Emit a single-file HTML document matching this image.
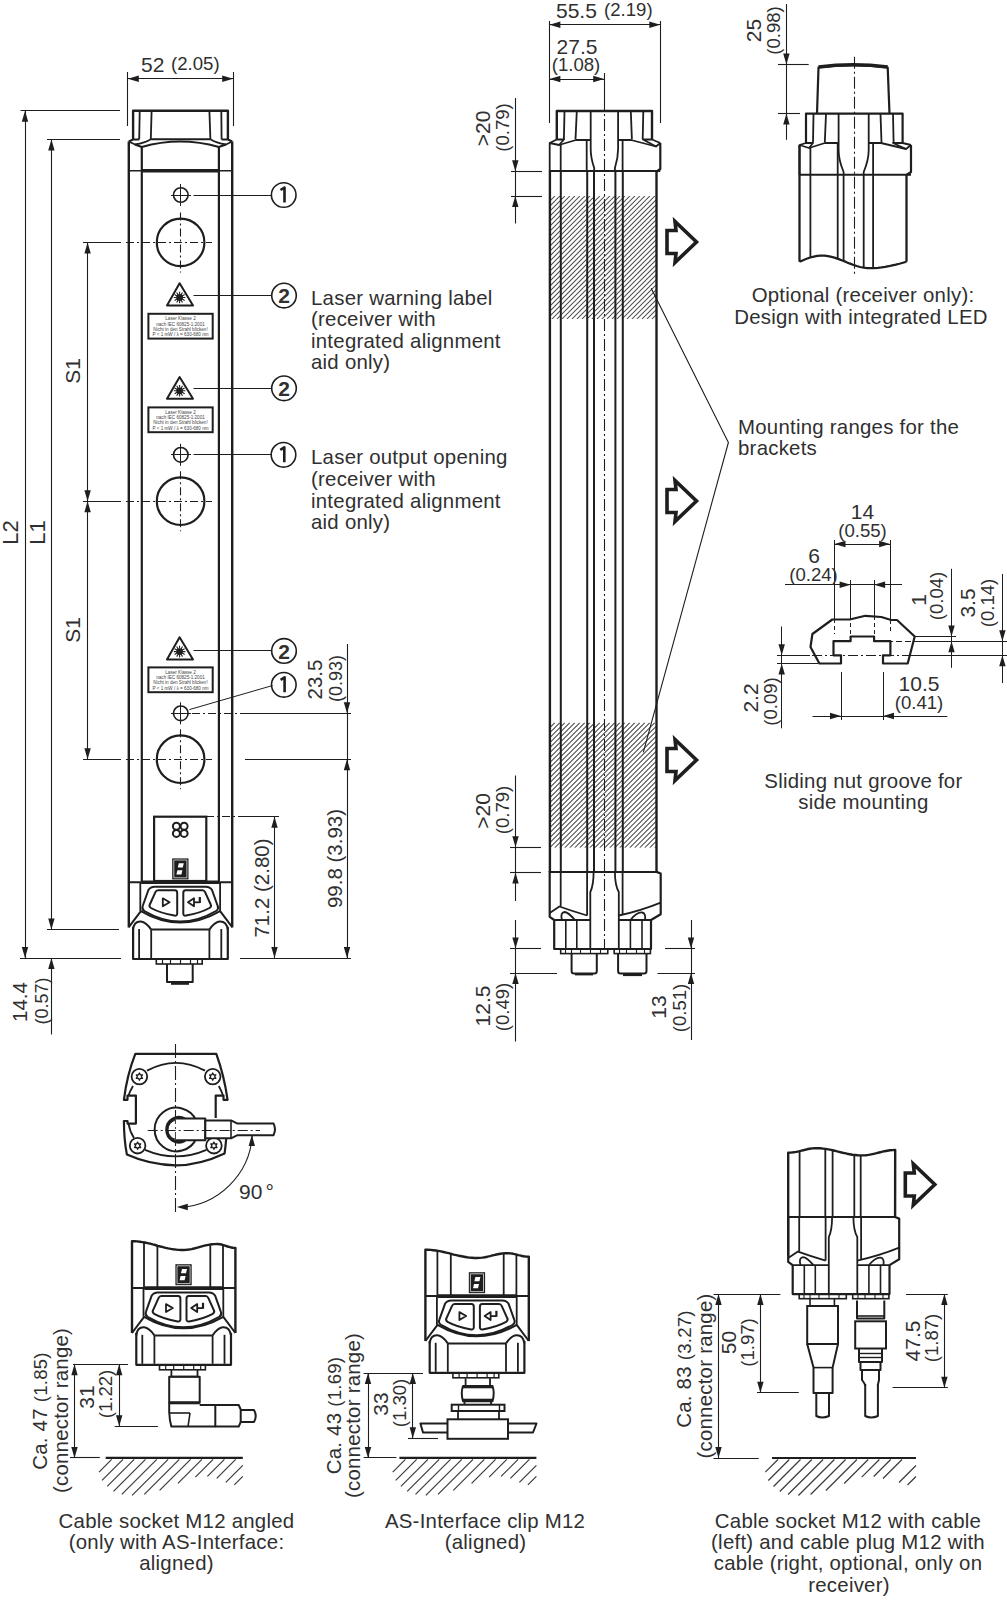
<!DOCTYPE html>
<html><head><meta charset="utf-8"><style>
html,body{margin:0;padding:0;background:#fff;width:1007px;height:1600px;overflow:hidden}
svg{display:block}
text{font-family:"Liberation Sans",sans-serif}
</style></head><body>
<svg width="1007" height="1600" viewBox="0 0 1007 1600">
<rect width="1007" height="1600" fill="#fff"/>
<line x1="127.5" y1="72.0" x2="127.5" y2="126.0" stroke="#1e1e1e" stroke-width="1.1"/>
<line x1="233.5" y1="72.0" x2="233.5" y2="126.0" stroke="#1e1e1e" stroke-width="1.1"/>
<line x1="127.8" y1="78.5" x2="233.2" y2="78.5" stroke="#1e1e1e" stroke-width="1.1"/>
<polygon points="127.8,78.7 138.8,75.5 138.8,81.9" fill="#1e1e1e"/>
<polygon points="233.2,78.7 222.2,75.5 222.2,81.9" fill="#1e1e1e"/>
<text x="141.0" y="71.5" font-size="21" text-anchor="start" fill="#303030">52</text>
<text x="171.0" y="70.0" font-size="18.6" text-anchor="start" fill="#303030">(2.05)</text>
<path d="M133.1,139.5 L133.1,110.7 L227.9,110.7 L227.9,139.5" fill="none" stroke="#1e1e1e" stroke-width="2.4" stroke-linejoin="round"/>
<path d="M139.7,111 L139.2,139.5" fill="none" stroke="#1e1e1e" stroke-width="1.8" stroke-linejoin="round"/>
<path d="M151.6,111 L150.8,139.3" fill="none" stroke="#1e1e1e" stroke-width="1.8" stroke-linejoin="round"/>
<path d="M209.4,111 L210.4,139.3" fill="none" stroke="#1e1e1e" stroke-width="1.8" stroke-linejoin="round"/>
<path d="M221.3,111 L221.6,139.5" fill="none" stroke="#1e1e1e" stroke-width="1.8" stroke-linejoin="round"/>
<path d="M128.8,141.5 L133.1,139.5 L139.2,139.5 M150.8,139.3 L210.4,139.3 M221.6,139.5 L227.9,139.5 L232.2,141.5" fill="none" stroke="#1e1e1e" stroke-width="2.0" stroke-linejoin="round"/>
<path d="M128.8,141.5 L135,144.5 Q145,143 150.8,139.3 M210.4,139.3 Q216,143 226,144.5 L232.2,141.5" fill="none" stroke="#1e1e1e" stroke-width="1.8" stroke-linejoin="round"/>
<path d="M135,144.5 L141.8,147 Q180,136 218.9,147 L226,144.5" fill="none" stroke="#1e1e1e" stroke-width="2.0" stroke-linejoin="round"/>
<line x1="128.8" y1="141.5" x2="128.8" y2="927.5" stroke="#1e1e1e" stroke-width="2.4"/>
<line x1="232.2" y1="141.5" x2="232.2" y2="927.5" stroke="#1e1e1e" stroke-width="2.4"/>
<line x1="141.8" y1="147.0" x2="141.8" y2="881.0" stroke="#1e1e1e" stroke-width="2.2"/>
<line x1="218.9" y1="147.0" x2="218.9" y2="881.0" stroke="#1e1e1e" stroke-width="2.2"/>
<line x1="128.8" y1="170.8" x2="232.2" y2="170.8" stroke="#1e1e1e" stroke-width="1.6"/>
<line x1="141.8" y1="170.8" x2="218.9" y2="170.8" stroke="#1e1e1e" stroke-width="3.4"/>
<line x1="20.5" y1="110.5" x2="120.0" y2="110.5" stroke="#1e1e1e" stroke-width="1.1"/>
<line x1="47.0" y1="139.5" x2="120.0" y2="139.5" stroke="#1e1e1e" stroke-width="1.1"/>
<line x1="47.0" y1="929.5" x2="119.0" y2="929.5" stroke="#1e1e1e" stroke-width="1.1"/>
<line x1="20.0" y1="958.5" x2="121.0" y2="958.5" stroke="#1e1e1e" stroke-width="1.1"/>
<line x1="25.5" y1="110.8" x2="25.5" y2="958.0" stroke="#1e1e1e" stroke-width="1.1"/>
<polygon points="25.0,110.8 21.8,121.8 28.2,121.8" fill="#1e1e1e"/>
<polygon points="25.0,958.0 21.8,947.0 28.2,947.0" fill="#1e1e1e"/>
<line x1="51.5" y1="139.5" x2="51.5" y2="929.5" stroke="#1e1e1e" stroke-width="1.1"/>
<polygon points="51.4,139.5 48.2,150.5 54.6,150.5" fill="#1e1e1e"/>
<polygon points="51.4,929.5 48.2,918.5 54.6,918.5" fill="#1e1e1e"/>
<text x="18.0" y="532.5" font-size="22" text-anchor="middle" fill="#303030" transform="rotate(-90 18.0 532.5)">L2</text>
<text x="44.5" y="532.5" font-size="22" text-anchor="middle" fill="#303030" transform="rotate(-90 44.5 532.5)">L1</text>
<line x1="51.5" y1="958.0" x2="51.5" y2="1034.5" stroke="#1e1e1e" stroke-width="1.1"/>
<polygon points="51.4,958.0 48.2,969.0 54.6,969.0" fill="#1e1e1e"/>
<text x="27.0" y="1002.0" font-size="20.5" text-anchor="middle" fill="#303030" transform="rotate(-90 27.0 1002.0)">14.4</text>
<text x="47.5" y="1001.0" font-size="18" text-anchor="middle" fill="#303030" transform="rotate(-90 47.5 1001.0)">(0.57)</text>
<line x1="83.0" y1="242.5" x2="121.0" y2="242.5" stroke="#1e1e1e" stroke-width="1.1"/>
<line x1="83.0" y1="501.5" x2="121.0" y2="501.5" stroke="#1e1e1e" stroke-width="1.1"/>
<line x1="83.0" y1="759.5" x2="121.0" y2="759.5" stroke="#1e1e1e" stroke-width="1.1"/>
<line x1="87.5" y1="242.4" x2="87.5" y2="759.2" stroke="#1e1e1e" stroke-width="1.1"/>
<polygon points="87.6,242.4 84.4,253.4 90.8,253.4" fill="#1e1e1e"/>
<polygon points="87.6,501.2 84.4,490.2 90.8,490.2" fill="#1e1e1e"/>
<polygon points="87.6,501.2 84.4,512.2 90.8,512.2" fill="#1e1e1e"/>
<polygon points="87.6,759.2 84.4,748.2 90.8,748.2" fill="#1e1e1e"/>
<text x="79.5" y="371.0" font-size="21" text-anchor="middle" fill="#303030" transform="rotate(-90 79.5 371.0)">S1</text>
<text x="79.5" y="630.0" font-size="21" text-anchor="middle" fill="#303030" transform="rotate(-90 79.5 630.0)">S1</text>
<circle cx="180.6" cy="242.4" r="23.8" fill="none" stroke="#1e1e1e" stroke-width="2.2"/>
<line x1="180.5" y1="212.4" x2="180.5" y2="272.4" stroke="#1e1e1e" stroke-width="1.1" stroke-dasharray="8 3 2 3"/>
<line x1="126.0" y1="242.5" x2="212.0" y2="242.5" stroke="#1e1e1e" stroke-width="1.1" stroke-dasharray="8 3 2 3"/>
<circle cx="180.8" cy="195.0" r="7.3" fill="none" stroke="#1e1e1e" stroke-width="1.6"/>
<line x1="171.0" y1="195.5" x2="191.0" y2="195.5" stroke="#1e1e1e" stroke-width="1.0"/>
<line x1="180.5" y1="184.0" x2="180.5" y2="206.0" stroke="#1e1e1e" stroke-width="1.0"/>
<circle cx="180.6" cy="501.2" r="23.8" fill="none" stroke="#1e1e1e" stroke-width="2.2"/>
<line x1="180.5" y1="471.2" x2="180.5" y2="531.2" stroke="#1e1e1e" stroke-width="1.1" stroke-dasharray="8 3 2 3"/>
<line x1="126.0" y1="501.5" x2="212.0" y2="501.5" stroke="#1e1e1e" stroke-width="1.1" stroke-dasharray="8 3 2 3"/>
<circle cx="180.8" cy="454.8" r="7.3" fill="none" stroke="#1e1e1e" stroke-width="1.6"/>
<line x1="171.0" y1="454.5" x2="191.0" y2="454.5" stroke="#1e1e1e" stroke-width="1.0"/>
<line x1="180.5" y1="443.8" x2="180.5" y2="465.8" stroke="#1e1e1e" stroke-width="1.0"/>
<circle cx="180.6" cy="759.2" r="23.8" fill="none" stroke="#1e1e1e" stroke-width="2.2"/>
<line x1="180.5" y1="729.2" x2="180.5" y2="789.2" stroke="#1e1e1e" stroke-width="1.1" stroke-dasharray="8 3 2 3"/>
<line x1="126.0" y1="759.5" x2="212.0" y2="759.5" stroke="#1e1e1e" stroke-width="1.1" stroke-dasharray="8 3 2 3"/>
<circle cx="180.8" cy="713.3" r="7.3" fill="none" stroke="#1e1e1e" stroke-width="1.6"/>
<line x1="171.0" y1="713.5" x2="191.0" y2="713.5" stroke="#1e1e1e" stroke-width="1.0"/>
<line x1="180.5" y1="702.3" x2="180.5" y2="724.3" stroke="#1e1e1e" stroke-width="1.0"/>
<path d="M179.6,283.2 L167.0,305.5 L193.0,305.5 Z" fill="none" stroke="#1e1e1e" stroke-width="2.0" stroke-linejoin="round"/>
<circle cx="179.6" cy="297.5" r="3.4" fill="#1e1e1e"/>
<path d="M182.60,297.50 L185.40,297.50 M182.20,299.00 L184.62,300.40 M181.10,300.10 L182.50,302.52 M179.60,300.50 L179.60,303.30 M178.10,300.10 L176.70,302.52 M177.00,299.00 L174.58,300.40 M176.60,297.50 L173.80,297.50 M177.00,296.00 L174.58,294.60 M178.10,294.90 L176.70,292.48 M179.60,294.50 L179.60,291.70 M181.10,294.90 L182.50,292.48 M182.20,296.00 L184.62,294.60" stroke="#1e1e1e" stroke-width="1.1"/>
<rect x="148.4" y="313.8" width="64.3" height="24.8" fill="none" stroke="#1e1e1e" stroke-width="2.0"/>
<text x="180.5" y="320.3" font-size="4.6" text-anchor="middle" fill="#444">Laser Klasse 2</text>
<text x="180.5" y="325.5" font-size="4.6" text-anchor="middle" fill="#444">nach IEC 60825-1:2001</text>
<text x="180.5" y="330.7" font-size="4.6" text-anchor="middle" fill="#444">Nicht in den Strahl blicken!</text>
<text x="180.5" y="335.9" font-size="4.6" text-anchor="middle" fill="#444">P &lt; 1 mW / λ = 630-680 nm</text>
<path d="M179.6,377.0 L167.0,398.8 L193.0,398.8 Z" fill="none" stroke="#1e1e1e" stroke-width="2.0" stroke-linejoin="round"/>
<circle cx="179.6" cy="390.8" r="3.4" fill="#1e1e1e"/>
<path d="M182.60,390.80 L185.40,390.80 M182.20,392.30 L184.62,393.70 M181.10,393.40 L182.50,395.82 M179.60,393.80 L179.60,396.60 M178.10,393.40 L176.70,395.82 M177.00,392.30 L174.58,393.70 M176.60,390.80 L173.80,390.80 M177.00,389.30 L174.58,387.90 M178.10,388.20 L176.70,385.78 M179.60,387.80 L179.60,385.00 M181.10,388.20 L182.50,385.78 M182.20,389.30 L184.62,387.90" stroke="#1e1e1e" stroke-width="1.1"/>
<rect x="148.4" y="407.4" width="64.3" height="24.8" fill="none" stroke="#1e1e1e" stroke-width="2.0"/>
<text x="180.5" y="413.9" font-size="4.6" text-anchor="middle" fill="#444">Laser Klasse 2</text>
<text x="180.5" y="419.1" font-size="4.6" text-anchor="middle" fill="#444">nach IEC 60825-1:2001</text>
<text x="180.5" y="424.3" font-size="4.6" text-anchor="middle" fill="#444">Nicht in den Strahl blicken!</text>
<text x="180.5" y="429.5" font-size="4.6" text-anchor="middle" fill="#444">P &lt; 1 mW / λ = 630-680 nm</text>
<path d="M179.6,637.2 L167.0,659.6 L193.0,659.6 Z" fill="none" stroke="#1e1e1e" stroke-width="2.0" stroke-linejoin="round"/>
<circle cx="179.6" cy="651.6" r="3.4" fill="#1e1e1e"/>
<path d="M182.60,651.60 L185.40,651.60 M182.20,653.10 L184.62,654.50 M181.10,654.20 L182.50,656.62 M179.60,654.60 L179.60,657.40 M178.10,654.20 L176.70,656.62 M177.00,653.10 L174.58,654.50 M176.60,651.60 L173.80,651.60 M177.00,650.10 L174.58,648.70 M178.10,649.00 L176.70,646.58 M179.60,648.60 L179.60,645.80 M181.10,649.00 L182.50,646.58 M182.20,650.10 L184.62,648.70" stroke="#1e1e1e" stroke-width="1.1"/>
<rect x="148.4" y="667.4" width="64.3" height="24.8" fill="none" stroke="#1e1e1e" stroke-width="2.0"/>
<text x="180.5" y="673.9" font-size="4.6" text-anchor="middle" fill="#444">Laser Klasse 2</text>
<text x="180.5" y="679.1" font-size="4.6" text-anchor="middle" fill="#444">nach IEC 60825-1:2001</text>
<text x="180.5" y="684.3" font-size="4.6" text-anchor="middle" fill="#444">Nicht in den Strahl blicken!</text>
<text x="180.5" y="689.5" font-size="4.6" text-anchor="middle" fill="#444">P &lt; 1 mW / λ = 630-680 nm</text>
<line x1="193.5" y1="195.5" x2="272.0" y2="195.5" stroke="#1e1e1e" stroke-width="1.0"/>
<circle cx="283.7" cy="195.0" r="12.3" fill="none" stroke="#1e1e1e" stroke-width="1.6"/>
<path d="M280.5,190.0 L284.5,187.5 L284.5,202.5" fill="none" stroke="#1e1e1e" stroke-width="2.6" stroke-linejoin="round"/>
<line x1="193.5" y1="295.5" x2="272.0" y2="295.5" stroke="#1e1e1e" stroke-width="1.0"/>
<circle cx="284.0" cy="295.6" r="12.3" fill="none" stroke="#1e1e1e" stroke-width="1.6"/>
<text x="284.0" y="303.2" font-size="21" text-anchor="middle" fill="#303030" font-weight="bold">2</text>
<line x1="193.5" y1="388.5" x2="272.0" y2="388.5" stroke="#1e1e1e" stroke-width="1.0"/>
<circle cx="284.0" cy="388.3" r="12.3" fill="none" stroke="#1e1e1e" stroke-width="1.6"/>
<text x="284.0" y="395.9" font-size="21" text-anchor="middle" fill="#303030" font-weight="bold">2</text>
<line x1="193.5" y1="454.5" x2="271.0" y2="454.5" stroke="#1e1e1e" stroke-width="1.0"/>
<circle cx="283.5" cy="454.8" r="12.3" fill="none" stroke="#1e1e1e" stroke-width="1.6"/>
<path d="M280.3,449.8 L284.3,447.3 L284.3,462.3" fill="none" stroke="#1e1e1e" stroke-width="2.6" stroke-linejoin="round"/>
<line x1="193.5" y1="650.5" x2="272.0" y2="650.5" stroke="#1e1e1e" stroke-width="1.0"/>
<circle cx="284.0" cy="650.9" r="12.3" fill="none" stroke="#1e1e1e" stroke-width="1.6"/>
<text x="284.0" y="658.5" font-size="21" text-anchor="middle" fill="#303030" font-weight="bold">2</text>
<line x1="189.4" y1="709.6" x2="272.6" y2="685.5" stroke="#1e1e1e" stroke-width="1.0"/>
<circle cx="283.8" cy="684.8" r="12.3" fill="none" stroke="#1e1e1e" stroke-width="1.6"/>
<path d="M280.6,679.8 L284.6,677.3 L284.6,692.3" fill="none" stroke="#1e1e1e" stroke-width="2.6" stroke-linejoin="round"/>
<line x1="245.0" y1="713.5" x2="351.0" y2="713.5" stroke="#1e1e1e" stroke-width="1.1"/>
<line x1="192.0" y1="713.5" x2="245.0" y2="713.5" stroke="#1e1e1e" stroke-width="1.1" stroke-dasharray="8 3 2 3"/>
<line x1="245.0" y1="759.5" x2="351.0" y2="759.5" stroke="#1e1e1e" stroke-width="1.1"/>
<line x1="347.5" y1="644.0" x2="347.5" y2="958.0" stroke="#1e1e1e" stroke-width="1.1"/>
<polygon points="347.0,713.3 343.8,702.3 350.2,702.3" fill="#1e1e1e"/>
<polygon points="347.0,759.2 343.8,770.2 350.2,770.2" fill="#1e1e1e"/>
<polygon points="347.0,958.0 343.8,947.0 350.2,947.0" fill="#1e1e1e"/>
<line x1="240.0" y1="958.5" x2="351.0" y2="958.5" stroke="#1e1e1e" stroke-width="1.1"/>
<line x1="206.0" y1="816.5" x2="279.0" y2="816.5" stroke="#1e1e1e" stroke-width="1.1" stroke-dasharray="8 3 2 3"/>
<line x1="245.0" y1="816.5" x2="279.0" y2="816.5" stroke="#1e1e1e" stroke-width="1.1"/>
<line x1="274.5" y1="816.8" x2="274.5" y2="958.0" stroke="#1e1e1e" stroke-width="1.1"/>
<polygon points="274.5,816.8 271.3,827.8 277.7,827.8" fill="#1e1e1e"/>
<polygon points="274.5,958.0 271.3,947.0 277.7,947.0" fill="#1e1e1e"/>
<text x="322.0" y="679.5" font-size="20.5" text-anchor="middle" fill="#303030" transform="rotate(-90 322.0 679.5)">23.5</text>
<text x="341.5" y="678.5" font-size="18" text-anchor="middle" fill="#303030" transform="rotate(-90 341.5 678.5)">(0.93)</text>
<text x="341.5" y="858.5" font-size="20.5" text-anchor="middle" fill="#303030" transform="rotate(-90 341.5 858.5)">99.8 (3.93)</text>
<text x="269.0" y="888.0" font-size="20.5" text-anchor="middle" fill="#303030" transform="rotate(-90 269.0 888.0)">71.2 (2.80)</text>
<rect x="154.1" y="816.7" width="52.2" height="64.3" fill="none" stroke="#1e1e1e" stroke-width="2.2"/>
<circle cx="176.4" cy="826.2" r="3.5" fill="none" stroke="#1e1e1e" stroke-width="2.0"/>
<circle cx="184.1" cy="826.2" r="3.5" fill="none" stroke="#1e1e1e" stroke-width="2.0"/>
<circle cx="176.4" cy="833.4" r="3.5" fill="none" stroke="#1e1e1e" stroke-width="2.0"/>
<circle cx="184.1" cy="833.4" r="3.5" fill="none" stroke="#1e1e1e" stroke-width="2.0"/>
<rect x="172.2" y="858.4" width="16.3" height="21" fill="#1e1e1e"/>
<path d="M173.8,860.0 h13.1 v17.8 h-13.1 Z" fill="none" stroke="#fff" stroke-width="0.7"/>
<path d="M178.8,863.2 L183.8,863.2 L182.8,867.4 L177.8,867.4 Z M177.4,870.2 L182.4,870.2 L181.4,874.4 L176.4,874.4 Z" fill="#fff"/>
<line x1="128.8" y1="882.3" x2="232.2" y2="882.3" stroke="#1e1e1e" stroke-width="2.0"/>
<line x1="141.2" y1="882.3" x2="219.8" y2="882.3" stroke="#1e1e1e" stroke-width="3.6"/>
<line x1="140.3" y1="883.0" x2="140.3" y2="911.0" stroke="#1e1e1e" stroke-width="1.8"/>
<line x1="220.1" y1="883.0" x2="220.1" y2="911.0" stroke="#1e1e1e" stroke-width="1.8"/>
<path d="M154.6,886.7 L205.8,886.7 Q210,886.7 212,890 L217.7,906 Q219,909 216,911 Q180,932 144.4,911 Q141.5,909 142.7,906 L148.4,890 Q150.4,886.7 154.6,886.7 Z" fill="none" stroke="#1e1e1e" stroke-width="2.0" stroke-linejoin="round"/>
<path d="M158.1,890.3 L175,890.3 Q177.2,890.3 177.2,893 L177.2,913.5 Q177.2,916 174.5,915.6 Q160,913 151,908 Q148.7,906.5 149.8,904.5 L155.3,892.3 Q156.3,890.3 158.1,890.3 Z" fill="none" stroke="#1e1e1e" stroke-width="2.0" stroke-linejoin="round"/>
<path d="M202.5,890.3 L185.5,890.3 Q183.3,890.3 183.3,893 L183.3,913.5 Q183.3,916 186,915.6 Q200.5,913 209.5,908 Q211.8,906.5 210.7,904.5 L205.2,892.3 Q204.2,890.3 202.5,890.3 Z" fill="none" stroke="#1e1e1e" stroke-width="2.0" stroke-linejoin="round"/>
<path d="M162.8,898.3 L169.6,902.2 L162.8,906.2 Z" fill="none" stroke="#1e1e1e" stroke-width="1.8" stroke-linejoin="round"/>
<path d="M188.0,902.3 L194.0,898.3 L194.0,906.3 Z" fill="none" stroke="#1e1e1e" stroke-width="1.8" stroke-linejoin="round"/>
<line x1="194.0" y1="902.3" x2="199.5" y2="902.3" stroke="#1e1e1e" stroke-width="1.8"/>
<line x1="199.8" y1="897.0" x2="199.8" y2="903.0" stroke="#1e1e1e" stroke-width="2.2"/>
<path d="M128.8,927.2 L140.9,911.1 Q180,934 220.1,911.1 L232.2,927.2" fill="none" stroke="#1e1e1e" stroke-width="2.0" stroke-linejoin="round"/>
<path d="M133,929.6 Q134,921 141,921.5 Q146,922 151.2,929.6" fill="none" stroke="#1e1e1e" stroke-width="2.0" stroke-linejoin="round"/>
<path d="M227.8,929.6 Q226.5,921 219.5,921.5 Q214.5,922 209.4,929.6" fill="none" stroke="#1e1e1e" stroke-width="2.0" stroke-linejoin="round"/>
<path d="M133.1,927 L133.1,959 L227.8,959 L227.8,927" fill="none" stroke="#1e1e1e" stroke-width="2.2" stroke-linejoin="round"/>
<line x1="139.1" y1="929.0" x2="139.1" y2="958.0" stroke="#1e1e1e" stroke-width="1.8"/>
<line x1="151.2" y1="929.6" x2="151.2" y2="958.0" stroke="#1e1e1e" stroke-width="1.8"/>
<line x1="209.4" y1="929.6" x2="209.4" y2="958.0" stroke="#1e1e1e" stroke-width="1.8"/>
<line x1="221.3" y1="929.0" x2="221.3" y2="958.0" stroke="#1e1e1e" stroke-width="1.8"/>
<line x1="151.2" y1="929.6" x2="209.4" y2="929.6" stroke="#1e1e1e" stroke-width="2.0"/>
<rect x="156.3" y="959.0" width="45.9" height="5.0" fill="none" stroke="#1e1e1e" stroke-width="1.6"/>
<line x1="162.5" y1="959.0" x2="162.5" y2="964.0" stroke="#1e1e1e" stroke-width="1.2"/>
<line x1="170.5" y1="959.0" x2="170.5" y2="964.0" stroke="#1e1e1e" stroke-width="1.2"/>
<line x1="180.5" y1="959.0" x2="180.5" y2="964.0" stroke="#1e1e1e" stroke-width="1.2"/>
<line x1="190.5" y1="959.0" x2="190.5" y2="964.0" stroke="#1e1e1e" stroke-width="1.2"/>
<line x1="197.5" y1="959.0" x2="197.5" y2="964.0" stroke="#1e1e1e" stroke-width="1.2"/>
<path d="M167,964 L167,982 L192.7,982 L192.7,964" fill="none" stroke="#1e1e1e" stroke-width="2.0" stroke-linejoin="round"/>
<line x1="171.0" y1="983.5" x2="189.0" y2="983.5" stroke="#1e1e1e" stroke-width="2.6"/>
<text x="311.0" y="304.9" font-size="20.4" text-anchor="start" fill="#303030" letter-spacing="0.25">Laser warning label</text>
<text x="311.0" y="326.4" font-size="20.4" text-anchor="start" fill="#303030" letter-spacing="0.25">(receiver with</text>
<text x="311.0" y="347.9" font-size="20.4" text-anchor="start" fill="#303030" letter-spacing="0.25">integrated alignment</text>
<text x="311.0" y="369.4" font-size="20.4" text-anchor="start" fill="#303030" letter-spacing="0.25">aid only)</text>
<text x="311.0" y="464.2" font-size="20.4" text-anchor="start" fill="#303030" letter-spacing="0.25">Laser output opening</text>
<text x="311.0" y="485.9" font-size="20.4" text-anchor="start" fill="#303030" letter-spacing="0.25">(receiver with</text>
<text x="311.0" y="507.6" font-size="20.4" text-anchor="start" fill="#303030" letter-spacing="0.25">integrated alignment</text>
<text x="311.0" y="529.3" font-size="20.4" text-anchor="start" fill="#303030" letter-spacing="0.25">aid only)</text>
<line x1="549.5" y1="21.0" x2="549.5" y2="123.0" stroke="#1e1e1e" stroke-width="1.1"/>
<line x1="660.5" y1="21.0" x2="660.5" y2="123.0" stroke="#1e1e1e" stroke-width="1.1"/>
<line x1="549.4" y1="24.5" x2="660.3" y2="24.5" stroke="#1e1e1e" stroke-width="1.1"/>
<polygon points="549.4,24.8 560.4,21.6 560.4,28.0" fill="#1e1e1e"/>
<polygon points="660.3,24.8 649.3,21.6 649.3,28.0" fill="#1e1e1e"/>
<text x="556.0" y="17.5" font-size="21" text-anchor="start" fill="#303030">55.5</text>
<text x="604.0" y="16.0" font-size="18.6" text-anchor="start" fill="#303030">(2.19)</text>
<line x1="549.4" y1="79.5" x2="604.2" y2="79.5" stroke="#1e1e1e" stroke-width="1.1"/>
<polygon points="549.4,79.0 560.4,75.8 560.4,82.2" fill="#1e1e1e"/>
<polygon points="604.2,79.0 593.2,75.8 593.2,82.2" fill="#1e1e1e"/>
<line x1="604.5" y1="73.0" x2="604.5" y2="99.0" stroke="#1e1e1e" stroke-width="1.1"/>
<text x="577.0" y="53.5" font-size="21" text-anchor="middle" fill="#303030">27.5</text>
<text x="576.0" y="70.5" font-size="18.6" text-anchor="middle" fill="#303030">(1.08)</text>
<clipPath id="h181"><rect x="549.9" y="196" width="106.60000000000002" height="123"/></clipPath>
<path clip-path="url(#h181)" d="M426.9,319.0 L549.9,196.0 M431.9,319.0 L554.9,196.0 M436.9,319.0 L559.9,196.0 M441.9,319.0 L564.9,196.0 M446.9,319.0 L569.9,196.0 M451.9,319.0 L574.9,196.0 M456.9,319.0 L579.9,196.0 M461.9,319.0 L584.9,196.0 M466.9,319.0 L589.9,196.0 M471.9,319.0 L594.9,196.0 M476.9,319.0 L599.9,196.0 M481.9,319.0 L604.9,196.0 M486.9,319.0 L609.9,196.0 M491.9,319.0 L614.9,196.0 M496.9,319.0 L619.9,196.0 M501.9,319.0 L624.9,196.0 M506.9,319.0 L629.9,196.0 M511.9,319.0 L634.9,196.0 M516.9,319.0 L639.9,196.0 M521.9,319.0 L644.9,196.0 M526.9,319.0 L649.9,196.0 M531.9,319.0 L654.9,196.0 M536.9,319.0 L659.9,196.0 M541.9,319.0 L664.9,196.0 M546.9,319.0 L669.9,196.0 M551.9,319.0 L674.9,196.0 M556.9,319.0 L679.9,196.0 M561.9,319.0 L684.9,196.0 M566.9,319.0 L689.9,196.0 M571.9,319.0 L694.9,196.0 M576.9,319.0 L699.9,196.0 M581.9,319.0 L704.9,196.0 M586.9,319.0 L709.9,196.0 M591.9,319.0 L714.9,196.0 M596.9,319.0 L719.9,196.0 M601.9,319.0 L724.9,196.0 M606.9,319.0 L729.9,196.0 M611.9,319.0 L734.9,196.0 M616.9,319.0 L739.9,196.0 M621.9,319.0 L744.9,196.0 M626.9,319.0 L749.9,196.0 M631.9,319.0 L754.9,196.0 M636.9,319.0 L759.9,196.0 M641.9,319.0 L764.9,196.0 M646.9,319.0 L769.9,196.0 M651.9,319.0 L774.9,196.0" stroke="#4a4a4a" stroke-width="1.05" fill="none"/>
<clipPath id="h183"><rect x="549.9" y="722.6" width="106.60000000000002" height="125.19999999999993"/></clipPath>
<path clip-path="url(#h183)" d="M424.7,847.8 L549.9,722.6 M429.7,847.8 L554.9,722.6 M434.7,847.8 L559.9,722.6 M439.7,847.8 L564.9,722.6 M444.7,847.8 L569.9,722.6 M449.7,847.8 L574.9,722.6 M454.7,847.8 L579.9,722.6 M459.7,847.8 L584.9,722.6 M464.7,847.8 L589.9,722.6 M469.7,847.8 L594.9,722.6 M474.7,847.8 L599.9,722.6 M479.7,847.8 L604.9,722.6 M484.7,847.8 L609.9,722.6 M489.7,847.8 L614.9,722.6 M494.7,847.8 L619.9,722.6 M499.7,847.8 L624.9,722.6 M504.7,847.8 L629.9,722.6 M509.7,847.8 L634.9,722.6 M514.7,847.8 L639.9,722.6 M519.7,847.8 L644.9,722.6 M524.7,847.8 L649.9,722.6 M529.7,847.8 L654.9,722.6 M534.7,847.8 L659.9,722.6 M539.7,847.8 L664.9,722.6 M544.7,847.8 L669.9,722.6 M549.7,847.8 L674.9,722.6 M554.7,847.8 L679.9,722.6 M559.7,847.8 L684.9,722.6 M564.7,847.8 L689.9,722.6 M569.7,847.8 L694.9,722.6 M574.7,847.8 L699.9,722.6 M579.7,847.8 L704.9,722.6 M584.7,847.8 L709.9,722.6 M589.7,847.8 L714.9,722.6 M594.7,847.8 L719.9,722.6 M599.7,847.8 L724.9,722.6 M604.7,847.8 L729.9,722.6 M609.7,847.8 L734.9,722.6 M614.7,847.8 L739.9,722.6 M619.7,847.8 L744.9,722.6 M624.7,847.8 L749.9,722.6 M629.7,847.8 L754.9,722.6 M634.7,847.8 L759.9,722.6 M639.7,847.8 L764.9,722.6 M644.7,847.8 L769.9,722.6 M649.7,847.8 L774.9,722.6 M654.7,847.8 L779.9,722.6" stroke="#4a4a4a" stroke-width="1.05" fill="none"/>
<path d="M556.8,140 L556.8,111 L652,111 L652,140" fill="none" stroke="#1e1e1e" stroke-width="2.4" stroke-linejoin="round"/>
<path d="M564.5,111 L563.9,139.4" fill="none" stroke="#1e1e1e" stroke-width="1.8" stroke-linejoin="round"/>
<path d="M576.8,111 L575.5,139.4" fill="none" stroke="#1e1e1e" stroke-width="1.8" stroke-linejoin="round"/>
<path d="M643.3,111 L642.7,139.4" fill="none" stroke="#1e1e1e" stroke-width="1.8" stroke-linejoin="round"/>
<path d="M630.8,111 L631.9,139.4" fill="none" stroke="#1e1e1e" stroke-width="1.8" stroke-linejoin="round"/>
<path d="M549.7,171 L549.7,143 L556.8,139.5 L564,139.5 L559,145 L549.7,143" fill="none" stroke="#1e1e1e" stroke-width="1.8" stroke-linejoin="round"/>
<path d="M559,145 L576,140 L590.7,140" fill="none" stroke="#1e1e1e" stroke-width="1.8" stroke-linejoin="round"/>
<path d="M660.3,143 L652,139.5 L643,139.5 L656,146.5 L660.3,143" fill="none" stroke="#1e1e1e" stroke-width="1.8" stroke-linejoin="round"/>
<path d="M656,146.5 L631,140 L618.1,140" fill="none" stroke="#1e1e1e" stroke-width="1.8" stroke-linejoin="round"/>
<path d="M660.3,143 L660.3,169 L656.5,171.5" fill="none" stroke="#1e1e1e" stroke-width="2.2" stroke-linejoin="round"/>
<line x1="560.7" y1="145.0" x2="560.7" y2="171.0" stroke="#1e1e1e" stroke-width="1.8"/>
<line x1="586.7" y1="141.0" x2="586.7" y2="171.0" stroke="#1e1e1e" stroke-width="1.8"/>
<line x1="622.6" y1="141.0" x2="622.6" y2="171.0" stroke="#1e1e1e" stroke-width="1.8"/>
<path d="M590.7,111 L590.7,149 Q590.7,158 594.2,168 L594.2,171" fill="none" stroke="#1e1e1e" stroke-width="1.8" stroke-linejoin="round"/>
<path d="M618.1,111 L618.1,149 Q618.1,158 614.9,168 L614.9,171" fill="none" stroke="#1e1e1e" stroke-width="1.8" stroke-linejoin="round"/>
<line x1="549.7" y1="171.0" x2="660.3" y2="171.0" stroke="#1e1e1e" stroke-width="2.0"/>
<line x1="549.9" y1="171.0" x2="549.9" y2="872.0" stroke="#1e1e1e" stroke-width="2.4"/>
<line x1="560.8" y1="171.0" x2="560.8" y2="872.0" stroke="#1e1e1e" stroke-width="2.0"/>
<line x1="587.2" y1="171.0" x2="587.2" y2="872.0" stroke="#1e1e1e" stroke-width="2.0"/>
<line x1="594.0" y1="171.0" x2="594.0" y2="872.0" stroke="#1e1e1e" stroke-width="2.0"/>
<line x1="615.4" y1="171.0" x2="615.4" y2="872.0" stroke="#1e1e1e" stroke-width="2.0"/>
<line x1="622.8" y1="171.0" x2="622.8" y2="872.0" stroke="#1e1e1e" stroke-width="2.0"/>
<line x1="656.5" y1="171.0" x2="656.5" y2="872.0" stroke="#1e1e1e" stroke-width="2.4"/>
<line x1="604.5" y1="99.0" x2="604.5" y2="950.0" stroke="#1e1e1e" stroke-width="1.1" stroke-dasharray="12 3 2 3"/>
<g transform="translate(0,0)">
<line x1="549.7" y1="871.9" x2="657.5" y2="871.9" stroke="#1e1e1e" stroke-width="2.0"/>
<path d="M656.5,871.9 L660.7,873.5 L660.7,914.2 L651,920" fill="none" stroke="#1e1e1e" stroke-width="2.2" stroke-linejoin="round"/>
<path d="M549.7,871 L549.7,916.8 L554.2,920" fill="none" stroke="#1e1e1e" stroke-width="2.2" stroke-linejoin="round"/>
<line x1="560.7" y1="871.9" x2="560.7" y2="906.5" stroke="#1e1e1e" stroke-width="1.8"/>
<path d="M549.7,913 L559.4,906.5 Q572,911 587.1,915.5" fill="none" stroke="#1e1e1e" stroke-width="1.8" stroke-linejoin="round"/>
<path d="M660.7,902.6 Q640,911 618.8,915.5" fill="none" stroke="#1e1e1e" stroke-width="1.8" stroke-linejoin="round"/>
<line x1="587.1" y1="871.9" x2="587.1" y2="915.5" stroke="#1e1e1e" stroke-width="1.8"/>
<line x1="622.6" y1="871.9" x2="622.6" y2="914.0" stroke="#1e1e1e" stroke-width="1.8"/>
<path d="M593.6,871.9 Q593.6,885 590.3,892 L590.3,949" fill="none" stroke="#1e1e1e" stroke-width="1.8" stroke-linejoin="round"/>
<path d="M614.9,871.9 Q614.9,885 618.8,892 L618.8,949" fill="none" stroke="#1e1e1e" stroke-width="1.8" stroke-linejoin="round"/>
<path d="M554.2,920 L590.3,920" fill="none" stroke="#1e1e1e" stroke-width="1.8" stroke-linejoin="round"/>
<path d="M618.8,920 L651,920" fill="none" stroke="#1e1e1e" stroke-width="1.8" stroke-linejoin="round"/>
<path d="M562,920 Q560,912.5 564.5,912 Q568,912 575,920" fill="none" stroke="#1e1e1e" stroke-width="1.8" stroke-linejoin="round"/>
<path d="M630.4,920 Q637,912 642,912.5 Q646,913 645,920" fill="none" stroke="#1e1e1e" stroke-width="1.8" stroke-linejoin="round"/>
<path d="M554.2,920 L554.2,949 L651,949 L651,920" fill="none" stroke="#1e1e1e" stroke-width="2.2" stroke-linejoin="round"/>
<line x1="565.8" y1="920.0" x2="565.8" y2="949.0" stroke="#1e1e1e" stroke-width="1.6"/>
<line x1="576.8" y1="920.0" x2="576.8" y2="949.0" stroke="#1e1e1e" stroke-width="1.6"/>
<line x1="630.4" y1="920.0" x2="630.4" y2="949.0" stroke="#1e1e1e" stroke-width="1.6"/>
<line x1="642.0" y1="920.0" x2="642.0" y2="949.0" stroke="#1e1e1e" stroke-width="1.6"/>
<rect x="560.7" y="949.0" width="47.1" height="4.6" fill="none" stroke="#1e1e1e" stroke-width="1.6"/>
<rect x="614.2" y="949.0" width="36.2" height="4.6" fill="none" stroke="#1e1e1e" stroke-width="1.6"/>
<line x1="565.5" y1="949.0" x2="565.5" y2="953.6" stroke="#1e1e1e" stroke-width="1.1"/>
<line x1="571.5" y1="949.0" x2="571.5" y2="953.6" stroke="#1e1e1e" stroke-width="1.1"/>
<line x1="580.5" y1="949.0" x2="580.5" y2="953.6" stroke="#1e1e1e" stroke-width="1.1"/>
<line x1="590.5" y1="949.0" x2="590.5" y2="953.6" stroke="#1e1e1e" stroke-width="1.1"/>
<line x1="600.5" y1="949.0" x2="600.5" y2="953.6" stroke="#1e1e1e" stroke-width="1.1"/>
<line x1="619.5" y1="949.0" x2="619.5" y2="953.6" stroke="#1e1e1e" stroke-width="1.1"/>
<line x1="626.5" y1="949.0" x2="626.5" y2="953.6" stroke="#1e1e1e" stroke-width="1.1"/>
<line x1="636.5" y1="949.0" x2="636.5" y2="953.6" stroke="#1e1e1e" stroke-width="1.1"/>
<line x1="644.5" y1="949.0" x2="644.5" y2="953.6" stroke="#1e1e1e" stroke-width="1.1"/>
</g>
<path d="M571.6,953.6 L571.6,971 Q571.6,973.6 574,973.6 L594.4,973.6 Q596.8,973.6 596.8,971 L596.8,953.6" fill="none" stroke="#1e1e1e" stroke-width="2.0" stroke-linejoin="round"/>
<path d="M618.1,953.6 L618.1,971 Q618.1,973.6 620.5,973.6 L644,973.6 Q646.5,973.6 646.5,971 L646.5,953.6" fill="none" stroke="#1e1e1e" stroke-width="2.0" stroke-linejoin="round"/>
<line x1="575.0" y1="974.2" x2="593.0" y2="974.2" stroke="#1e1e1e" stroke-width="2.4"/>
<line x1="623.0" y1="974.6" x2="642.0" y2="974.6" stroke="#1e1e1e" stroke-width="3.0"/>
<line x1="515.5" y1="98.0" x2="515.5" y2="223.5" stroke="#1e1e1e" stroke-width="1.1"/>
<line x1="511.0" y1="171.5" x2="542.0" y2="171.5" stroke="#1e1e1e" stroke-width="1.1"/>
<line x1="511.0" y1="196.5" x2="542.0" y2="196.5" stroke="#1e1e1e" stroke-width="1.1"/>
<polygon points="515.3,171.3 512.1,160.3 518.5,160.3" fill="#1e1e1e"/>
<polygon points="515.3,196.0 512.1,207.0 518.5,207.0" fill="#1e1e1e"/>
<text x="490.0" y="128.5" font-size="21" text-anchor="middle" fill="#303030" transform="rotate(-90 490.0 128.5)">&gt;20</text>
<text x="508.5" y="127.5" font-size="18.6" text-anchor="middle" fill="#303030" transform="rotate(-90 508.5 127.5)">(0.79)</text>
<line x1="515.5" y1="775.5" x2="515.5" y2="901.0" stroke="#1e1e1e" stroke-width="1.1"/>
<line x1="510.0" y1="847.5" x2="541.0" y2="847.5" stroke="#1e1e1e" stroke-width="1.1"/>
<line x1="510.0" y1="872.5" x2="541.0" y2="872.5" stroke="#1e1e1e" stroke-width="1.1"/>
<polygon points="515.5,847.3 512.3,836.3 518.7,836.3" fill="#1e1e1e"/>
<polygon points="515.5,872.4 512.3,883.4 518.7,883.4" fill="#1e1e1e"/>
<text x="490.0" y="811.0" font-size="21" text-anchor="middle" fill="#303030" transform="rotate(-90 490.0 811.0)">&gt;20</text>
<text x="508.5" y="810.0" font-size="18.6" text-anchor="middle" fill="#303030" transform="rotate(-90 508.5 810.0)">(0.79)</text>
<line x1="515.5" y1="920.0" x2="515.5" y2="1041.5" stroke="#1e1e1e" stroke-width="1.1"/>
<line x1="510.0" y1="948.5" x2="541.0" y2="948.5" stroke="#1e1e1e" stroke-width="1.1"/>
<line x1="510.0" y1="973.5" x2="557.0" y2="973.5" stroke="#1e1e1e" stroke-width="1.1"/>
<polygon points="515.5,948.5 512.3,937.5 518.7,937.5" fill="#1e1e1e"/>
<polygon points="515.5,973.0 512.3,984.0 518.7,984.0" fill="#1e1e1e"/>
<text x="490.0" y="1006.0" font-size="21" text-anchor="middle" fill="#303030" transform="rotate(-90 490.0 1006.0)">12.5</text>
<text x="508.5" y="1007.0" font-size="18.6" text-anchor="middle" fill="#303030" transform="rotate(-90 508.5 1007.0)">(0.49)</text>
<line x1="691.5" y1="920.0" x2="691.5" y2="1040.0" stroke="#1e1e1e" stroke-width="1.1"/>
<line x1="665.0" y1="948.5" x2="695.0" y2="948.5" stroke="#1e1e1e" stroke-width="1.1"/>
<line x1="657.5" y1="973.5" x2="695.0" y2="973.5" stroke="#1e1e1e" stroke-width="1.1"/>
<polygon points="691.0,948.5 687.8,937.5 694.2,937.5" fill="#1e1e1e"/>
<polygon points="691.0,973.0 687.8,984.0 694.2,984.0" fill="#1e1e1e"/>
<text x="666.0" y="1007.0" font-size="21" text-anchor="middle" fill="#303030" transform="rotate(-90 666.0 1007.0)">13</text>
<text x="685.5" y="1008.0" font-size="18.6" text-anchor="middle" fill="#303030" transform="rotate(-90 685.5 1008.0)">(0.51)</text>
<path d="M667.0,230.5 L676.0,230.5 L675.0,221.5 L696.5,242.0 L675.0,262.5 L676.0,253.5 L667.0,253.5 Z" fill="none" stroke="#1e1e1e" stroke-width="3.6" stroke-linejoin="miter" stroke-miterlimit="6"/>
<path d="M667.0,489.5 L676.0,489.5 L675.0,480.5 L696.5,501.0 L675.0,521.5 L676.0,512.5 L667.0,512.5 Z" fill="none" stroke="#1e1e1e" stroke-width="3.6" stroke-linejoin="miter" stroke-miterlimit="6"/>
<path d="M667.0,748.5 L676.0,748.5 L675.0,739.5 L696.5,760.0 L675.0,780.5 L676.0,771.5 L667.0,771.5 Z" fill="none" stroke="#1e1e1e" stroke-width="3.6" stroke-linejoin="miter" stroke-miterlimit="6"/>
<path d="M651.2,288.2 L728.4,442.5 L643.3,752.3" fill="none" stroke="#1e1e1e" stroke-width="1.1" stroke-linejoin="round"/>
<text x="863.0" y="302.4" font-size="20.4" text-anchor="middle" fill="#303030" letter-spacing="0.25">Optional (receiver only):</text>
<text x="861.0" y="323.6" font-size="20.4" text-anchor="middle" fill="#303030" letter-spacing="0.25">Design with integrated LED</text>
<text x="738.0" y="433.8" font-size="20.4" text-anchor="start" fill="#303030" letter-spacing="0.25">Mounting ranges for the</text>
<text x="738.0" y="455.3" font-size="20.4" text-anchor="start" fill="#303030" letter-spacing="0.25">brackets</text>
<line x1="786.5" y1="4.0" x2="786.5" y2="139.8" stroke="#1e1e1e" stroke-width="1.1"/>
<line x1="778.0" y1="64.5" x2="808.7" y2="64.5" stroke="#1e1e1e" stroke-width="1.1"/>
<line x1="778.0" y1="113.5" x2="800.0" y2="113.5" stroke="#1e1e1e" stroke-width="1.1"/>
<polygon points="786.4,64.5 783.2,53.5 789.6,53.5" fill="#1e1e1e"/>
<polygon points="786.4,113.6 783.2,124.6 789.6,124.6" fill="#1e1e1e"/>
<text x="760.5" y="30.5" font-size="21" text-anchor="middle" fill="#303030" transform="rotate(-90 760.5 30.5)">25</text>
<text x="779.5" y="30.5" font-size="18.6" text-anchor="middle" fill="#303030" transform="rotate(-90 779.5 30.5)">(0.98)</text>
<path d="M817,113.6 L818.5,67.5 Q853,63 887.7,67.5 L889.5,113.6" fill="none" stroke="#1e1e1e" stroke-width="2.2" stroke-linejoin="round"/>
<path d="M818.5,67 Q853,62.5 887.7,67" fill="none" stroke="#1e1e1e" stroke-width="3.4" stroke-linejoin="round"/>
<path d="M806,143 L806,113.6 L902.6,113.6 L902.6,143" fill="none" stroke="#1e1e1e" stroke-width="2.2" stroke-linejoin="round"/>
<path d="M813.5,114 L813,142.5" fill="none" stroke="#1e1e1e" stroke-width="1.8" stroke-linejoin="round"/>
<path d="M826,114 L824.8,142.5" fill="none" stroke="#1e1e1e" stroke-width="1.8" stroke-linejoin="round"/>
<path d="M893,114 L893.6,142.5" fill="none" stroke="#1e1e1e" stroke-width="1.8" stroke-linejoin="round"/>
<path d="M880.5,114 L881.5,142.5" fill="none" stroke="#1e1e1e" stroke-width="1.8" stroke-linejoin="round"/>
<path d="M838.6,114 L838.6,150 Q838.6,160 843.6,172 L843.6,175" fill="none" stroke="#1e1e1e" stroke-width="1.8" stroke-linejoin="round"/>
<path d="M868.7,114 L868.7,150 Q868.7,160 863.7,172 L863.7,175" fill="none" stroke="#1e1e1e" stroke-width="1.8" stroke-linejoin="round"/>
<path d="M799.5,175 L799.5,145 L806,143 L813,143 L809,148 L799.5,145" fill="none" stroke="#1e1e1e" stroke-width="1.8" stroke-linejoin="round"/>
<path d="M809,148 L825,143 L838.6,143" fill="none" stroke="#1e1e1e" stroke-width="1.8" stroke-linejoin="round"/>
<path d="M911,145 L902.6,143 L893,143 L906,149 L911,145" fill="none" stroke="#1e1e1e" stroke-width="1.8" stroke-linejoin="round"/>
<path d="M906,149 L881,143 L868.7,143" fill="none" stroke="#1e1e1e" stroke-width="1.8" stroke-linejoin="round"/>
<path d="M911,145 L911,172 L906.5,175" fill="none" stroke="#1e1e1e" stroke-width="2.2" stroke-linejoin="round"/>
<line x1="799.5" y1="174.8" x2="911.0" y2="174.8" stroke="#1e1e1e" stroke-width="2.0"/>
<line x1="810.4" y1="148.0" x2="810.4" y2="257.5" stroke="#1e1e1e" stroke-width="1.8"/>
<line x1="837.7" y1="143.0" x2="837.7" y2="258.7" stroke="#1e1e1e" stroke-width="1.8"/>
<line x1="873.1" y1="143.0" x2="873.1" y2="268.1" stroke="#1e1e1e" stroke-width="1.8"/>
<line x1="843.6" y1="175.0" x2="843.6" y2="261.0" stroke="#1e1e1e" stroke-width="1.8"/>
<line x1="863.7" y1="175.0" x2="863.7" y2="267.7" stroke="#1e1e1e" stroke-width="1.8"/>
<line x1="799.5" y1="145.0" x2="799.5" y2="261.7" stroke="#1e1e1e" stroke-width="2.3"/>
<line x1="906.5" y1="175.0" x2="906.5" y2="261.7" stroke="#1e1e1e" stroke-width="2.3"/>
<path d="M799.5,261.7 L803.1,260.2 L806.6,258.8 L810.2,257.5 L813.8,256.6 L817.3,255.9 L820.9,255.6 L824.5,255.7 L828.0,256.1 L831.6,256.9 L835.2,257.9 L838.7,259.1 L842.3,260.5 L845.9,261.9 L849.4,263.4 L853.0,264.8 L856.6,266.0 L860.1,267.0 L863.7,267.7 L867.3,268.1 L870.8,268.2 L874.4,268.1 L878.0,267.8 L881.5,267.4 L885.1,266.9 L888.7,266.2 L892.2,265.4 L895.8,264.6 L899.4,263.7 L902.9,262.7 L906.5,261.7" fill="none" stroke="#1e1e1e" stroke-width="2.2" stroke-linejoin="round"/>
<line x1="854.5" y1="56.8" x2="854.5" y2="275.0" stroke="#1e1e1e" stroke-width="1.1" stroke-dasharray="12 3 2 3"/>
<path d="M819.4,663.5 L810.5,647.0 L812.4,634.0 L832.3,619.5 L849.7,619.5 L865.3,615.8 L881.3,617.0 L891.2,620.0 L897.0,620.0 L914.7,636.5 L907.7,663.5 L883.0,663.5 L883.0,655.3 L890.4,655.3 L890.4,641.2 L874.1,641.2 L874.1,636.5 L850.6,636.5 L850.6,641.2 L833.5,641.2 L833.5,655.3 L841.0,655.3 L841.0,663.5 Z" fill="none" stroke="#1e1e1e" stroke-width="2.2" stroke-linejoin="round"/>
<line x1="834.5" y1="540.0" x2="834.5" y2="619.0" stroke="#1e1e1e" stroke-width="1.0"/>
<line x1="834.5" y1="619.0" x2="834.5" y2="634.0" stroke="#1e1e1e" stroke-width="1.0" stroke-dasharray="4 3"/>
<line x1="890.5" y1="540.0" x2="890.5" y2="620.0" stroke="#1e1e1e" stroke-width="1.0"/>
<line x1="890.5" y1="620.0" x2="890.5" y2="634.0" stroke="#1e1e1e" stroke-width="1.0" stroke-dasharray="4 3"/>
<line x1="850.5" y1="580.0" x2="850.5" y2="616.0" stroke="#1e1e1e" stroke-width="1.0"/>
<line x1="850.5" y1="616.0" x2="850.5" y2="634.0" stroke="#1e1e1e" stroke-width="1.0" stroke-dasharray="4 3"/>
<line x1="874.5" y1="580.0" x2="874.5" y2="616.0" stroke="#1e1e1e" stroke-width="1.0"/>
<line x1="874.5" y1="616.0" x2="874.5" y2="634.0" stroke="#1e1e1e" stroke-width="1.0" stroke-dasharray="4 3"/>
<line x1="841.5" y1="672.0" x2="841.5" y2="720.0" stroke="#1e1e1e" stroke-width="1.0"/>
<line x1="883.5" y1="672.0" x2="883.5" y2="720.0" stroke="#1e1e1e" stroke-width="1.0"/>
<line x1="777.0" y1="655.5" x2="810.0" y2="655.5" stroke="#1e1e1e" stroke-width="1.0"/>
<line x1="777.0" y1="663.5" x2="818.0" y2="663.5" stroke="#1e1e1e" stroke-width="1.0"/>
<line x1="812.0" y1="655.5" x2="912.0" y2="655.5" stroke="#1e1e1e" stroke-width="1.0" stroke-dasharray="10 3 2 3"/>
<line x1="912.0" y1="655.5" x2="1007.0" y2="655.5" stroke="#1e1e1e" stroke-width="1.0"/>
<line x1="878.0" y1="641.5" x2="914.0" y2="641.5" stroke="#1e1e1e" stroke-width="1.0" stroke-dasharray="6 3"/>
<line x1="914.0" y1="641.5" x2="1007.0" y2="641.5" stroke="#1e1e1e" stroke-width="1.0"/>
<line x1="915.0" y1="636.5" x2="956.0" y2="636.5" stroke="#1e1e1e" stroke-width="1.0"/>
<line x1="834.5" y1="544.5" x2="890.1" y2="544.5" stroke="#1e1e1e" stroke-width="1.0"/>
<polygon points="834.5,544.0 845.5,540.8 845.5,547.2" fill="#1e1e1e"/>
<polygon points="890.1,544.0 879.1,540.8 879.1,547.2" fill="#1e1e1e"/>
<text x="862.5" y="519.3" font-size="21" text-anchor="middle" fill="#303030">14</text>
<text x="862.5" y="537.0" font-size="18.6" text-anchor="middle" fill="#303030">(0.55)</text>
<line x1="785.0" y1="584.5" x2="902.0" y2="584.5" stroke="#1e1e1e" stroke-width="1.0"/>
<polygon points="850.6,584.7 839.6,581.5 839.6,587.9" fill="#1e1e1e"/>
<polygon points="874.1,584.7 885.1,581.5 885.1,587.9" fill="#1e1e1e"/>
<text x="814.0" y="563.3" font-size="21" text-anchor="middle" fill="#303030">6</text>
<text x="813.5" y="581.0" font-size="18.6" text-anchor="middle" fill="#303030">(0.24)</text>
<line x1="951.5" y1="568.8" x2="951.5" y2="667.8" stroke="#1e1e1e" stroke-width="1.0"/>
<polygon points="951.5,636.5 948.3,625.5 954.7,625.5" fill="#1e1e1e"/>
<polygon points="951.5,641.2 948.3,652.2 954.7,652.2" fill="#1e1e1e"/>
<text x="925.5" y="600.0" font-size="21" text-anchor="middle" fill="#303030" transform="rotate(-90 925.5 600.0)">1</text>
<text x="942.5" y="596.0" font-size="18.6" text-anchor="middle" fill="#303030" transform="rotate(-90 942.5 596.0)">(0.04)</text>
<line x1="1002.5" y1="574.0" x2="1002.5" y2="683.0" stroke="#1e1e1e" stroke-width="1.0"/>
<polygon points="1002.4,641.2 999.2,630.2 1005.6,630.2" fill="#1e1e1e"/>
<polygon points="1002.4,655.3 999.2,666.3 1005.6,666.3" fill="#1e1e1e"/>
<text x="975.0" y="603.0" font-size="21" text-anchor="middle" fill="#303030" transform="rotate(-90 975.0 603.0)">3.5</text>
<text x="993.5" y="603.0" font-size="18.6" text-anchor="middle" fill="#303030" transform="rotate(-90 993.5 603.0)">(0.14)</text>
<line x1="781.5" y1="626.5" x2="781.5" y2="728.3" stroke="#1e1e1e" stroke-width="1.0"/>
<polygon points="781.7,655.3 778.5,644.3 784.9,644.3" fill="#1e1e1e"/>
<polygon points="781.7,663.5 778.5,674.5 784.9,674.5" fill="#1e1e1e"/>
<text x="758.0" y="698.0" font-size="21" text-anchor="middle" fill="#303030" transform="rotate(-90 758.0 698.0)">2.2</text>
<text x="776.5" y="701.5" font-size="18.6" text-anchor="middle" fill="#303030" transform="rotate(-90 776.5 701.5)">(0.09)</text>
<line x1="812.5" y1="716.5" x2="947.3" y2="716.5" stroke="#1e1e1e" stroke-width="1.0"/>
<polygon points="841.0,716.0 830.0,712.8 830.0,719.2" fill="#1e1e1e"/>
<polygon points="883.0,716.0 894.0,712.8 894.0,719.2" fill="#1e1e1e"/>
<text x="919.0" y="691.2" font-size="21" text-anchor="middle" fill="#303030">10.5</text>
<text x="919.0" y="709.0" font-size="18.6" text-anchor="middle" fill="#303030">(0.41)</text>
<text x="863.4" y="787.5" font-size="20.4" text-anchor="middle" fill="#303030" letter-spacing="0.25">Sliding nut groove for</text>
<text x="863.4" y="808.5" font-size="20.4" text-anchor="middle" fill="#303030" letter-spacing="0.25">side mounting</text>
<line x1="175.5" y1="1044.0" x2="175.5" y2="1212.0" stroke="#1e1e1e" stroke-width="1.1" stroke-dasharray="14 3 2 3"/>
<path d="M215.7,1118 L215.7,1095.6 L223.5,1095.6 L223.5,1099.8 L227.6,1099.8 Q224,1075 216.3,1053.9 L135.3,1053.9 Q127,1075 123.9,1099.8 L127.5,1099.8 L127.5,1095.6 L135.9,1095.6 L135.9,1123.6 L127.5,1123.6 L127.5,1121 L123.9,1121 Q124,1140 126.9,1154.6 Q150,1165 175.8,1165.4 Q200,1165 224.6,1153.4 Q226.5,1140 227.2,1121" fill="none" stroke="#1e1e1e" stroke-width="2.2" stroke-linejoin="round"/>
<circle cx="139.4" cy="1076.6" r="7.8" fill="none" stroke="#1e1e1e" stroke-width="1.8"/>
<path d="M139.4,1073.0 L138.4,1074.9 L136.3,1074.8 L137.4,1076.6 L136.3,1078.4 L138.4,1078.3 L139.4,1080.2 L140.4,1078.3 L142.5,1078.4 L141.4,1076.6 L142.5,1074.8 L140.4,1074.9 Z" fill="none" stroke="#1e1e1e" stroke-width="1.3" stroke-linejoin="round"/>
<circle cx="212.7" cy="1076.6" r="7.8" fill="none" stroke="#1e1e1e" stroke-width="1.8"/>
<path d="M212.7,1073.0 L211.7,1074.9 L209.6,1074.8 L210.7,1076.6 L209.6,1078.4 L211.7,1078.3 L212.7,1080.2 L213.7,1078.3 L215.8,1078.4 L214.7,1076.6 L215.8,1074.8 L213.7,1074.9 Z" fill="none" stroke="#1e1e1e" stroke-width="1.3" stroke-linejoin="round"/>
<circle cx="137.6" cy="1145.7" r="7.8" fill="none" stroke="#1e1e1e" stroke-width="1.8"/>
<path d="M137.6,1142.1 L136.6,1144.0 L134.5,1143.9 L135.6,1145.7 L134.5,1147.5 L136.6,1147.4 L137.6,1149.3 L138.6,1147.4 L140.7,1147.5 L139.6,1145.7 L140.7,1143.9 L138.6,1144.0 Z" fill="none" stroke="#1e1e1e" stroke-width="1.3" stroke-linejoin="round"/>
<circle cx="213.9" cy="1145.7" r="7.8" fill="none" stroke="#1e1e1e" stroke-width="1.8"/>
<path d="M213.9,1142.1 L212.9,1144.0 L210.8,1143.9 L211.9,1145.7 L210.8,1147.5 L212.9,1147.4 L213.9,1149.3 L214.9,1147.4 L217.0,1147.5 L215.9,1145.7 L217.0,1143.9 L214.9,1144.0 Z" fill="none" stroke="#1e1e1e" stroke-width="1.3" stroke-linejoin="round"/>
<path d="M147,1070.6 Q175.8,1055 205,1070.6" fill="none" stroke="#1e1e1e" stroke-width="1.8" stroke-linejoin="round"/>
<path d="M133,1086 Q129.5,1092 128.5,1095.6" fill="none" stroke="#1e1e1e" stroke-width="1.8" stroke-linejoin="round"/>
<path d="M218.8,1086 Q222,1092 223,1095.6" fill="none" stroke="#1e1e1e" stroke-width="1.8" stroke-linejoin="round"/>
<path d="M128.5,1123.6 Q130,1132 134,1138" fill="none" stroke="#1e1e1e" stroke-width="1.8" stroke-linejoin="round"/>
<path d="M222.5,1121 Q221,1132 217,1138" fill="none" stroke="#1e1e1e" stroke-width="1.8" stroke-linejoin="round"/>
<path d="M145,1149.8 Q175.8,1163 206.5,1149.8" fill="none" stroke="#1e1e1e" stroke-width="1.8" stroke-linejoin="round"/>
<path d="M196.5,1121 A21.8,21.8 0 1 0 196.5,1138" fill="none" stroke="#1e1e1e" stroke-width="2.0" stroke-linejoin="round"/>
<path d="M185,1119 A12.3,12.3 0 1 0 185,1140.5" fill="none" stroke="#1e1e1e" stroke-width="3.0" stroke-linejoin="round"/>
<path d="M183,1121.5 A9.8,9.8 0 1 0 183,1138" fill="none" stroke="#1e1e1e" stroke-width="1.0" stroke-linejoin="round"/>
<path d="M175.8,1118.4 L205.3,1118.4 L205.3,1140.3 L175.8,1140.3" fill="#fff" stroke="#1e1e1e" stroke-width="2.0" stroke-linejoin="round"/>
<path d="M205.3,1120.4 L231,1120.4 L237,1123.4 L273.5,1123.4 Q276.5,1129.3 273.5,1135.3 L237,1135.3 L231,1138.3 L205.3,1138.3 Z" fill="#fff" stroke="#1e1e1e" stroke-width="2.0" stroke-linejoin="round"/>
<line x1="231.0" y1="1120.4" x2="231.0" y2="1138.3" stroke="#1e1e1e" stroke-width="1.6"/>
<line x1="147.7" y1="1130.5" x2="260.0" y2="1130.5" stroke="#1e1e1e" stroke-width="1.1" stroke-dasharray="10 3 2 3"/>
<path d="M179.8,1207.5 A77.5,77.5 0 0 0 252.3,1136" fill="none" stroke="#1e1e1e" stroke-width="1.1" stroke-linejoin="round"/>
<polygon points="176.8,1207.0 187.8,1203.8 187.8,1210.2" fill="#1e1e1e"/>
<polygon points="251.8,1135.0 248.6,1146.0 255.0,1146.0" fill="#1e1e1e"/>
<text x="239.0" y="1199.0" font-size="21" text-anchor="start" fill="#303030">90</text>
<text x="265.5" y="1199.0" font-size="21" text-anchor="start" fill="#303030">°</text>
<path d="M132.0,1333.1 L132.0,1241.2 L134.6,1241.3 L137.2,1241.4 L139.8,1241.7 L142.3,1242.1 L144.9,1242.5 L147.5,1243.1 L150.1,1243.7 L152.7,1244.4 L155.3,1245.0 L157.8,1245.8 L160.4,1246.5 L163.0,1247.1 L165.6,1247.8 L168.2,1248.4 L170.8,1248.9 L173.4,1249.3 L175.9,1249.6 L178.5,1249.9 L181.1,1250.0 L183.7,1250.0 L186.3,1249.8 L188.9,1249.5 L191.5,1249.1 L194.0,1248.5 L196.6,1247.8 L199.2,1247.1 L201.8,1246.4 L204.4,1245.7 L207.0,1245.1 L209.5,1244.6 L212.1,1244.3 L214.7,1244.1 L217.3,1244.0 L219.9,1244.3 L222.5,1244.8 L225.1,1245.6 L227.6,1246.5 L230.2,1247.2 L232.8,1247.7 L235.4,1247.9 L235.39999999999998,1333.1" fill="none" stroke="#1e1e1e" stroke-width="2.4" stroke-linejoin="round"/>
<line x1="144.0" y1="1242.4" x2="144.0" y2="1288.1" stroke="#1e1e1e" stroke-width="1.8"/>
<line x1="157.4" y1="1245.6" x2="157.4" y2="1288.1" stroke="#1e1e1e" stroke-width="1.8"/>
<line x1="210.3" y1="1244.5" x2="210.3" y2="1288.1" stroke="#1e1e1e" stroke-width="1.8"/>
<line x1="223.0" y1="1245.0" x2="223.0" y2="1288.1" stroke="#1e1e1e" stroke-width="1.8"/>
<rect x="175.4" y="1264.2" width="16.3" height="21" fill="#1e1e1e"/>
<path d="M177.0,1265.8 h13.1 v17.8 h-13.1 Z" fill="none" stroke="#fff" stroke-width="0.7"/>
<path d="M182.0,1269.0 L187.0,1269.0 L186.0,1273.2 L181.0,1273.2 Z M180.6,1276.0 L185.6,1276.0 L184.6,1280.2 L179.6,1280.2 Z" fill="#fff"/>
<line x1="132.0" y1="1288.1" x2="235.4" y2="1288.1" stroke="#1e1e1e" stroke-width="2.0"/>
<line x1="144.4" y1="1288.1" x2="223.0" y2="1288.1" stroke="#1e1e1e" stroke-width="3.6"/>
<g transform="translate(3.2,405.8)">
<line x1="140.3" y1="883.0" x2="140.3" y2="911.0" stroke="#1e1e1e" stroke-width="1.8"/>
<line x1="220.1" y1="883.0" x2="220.1" y2="911.0" stroke="#1e1e1e" stroke-width="1.8"/>
<path d="M154.6,886.7 L205.8,886.7 Q210,886.7 212,890 L217.7,906 Q219,909 216,911 Q180,932 144.4,911 Q141.5,909 142.7,906 L148.4,890 Q150.4,886.7 154.6,886.7 Z" fill="none" stroke="#1e1e1e" stroke-width="2.0" stroke-linejoin="round"/>
<path d="M158.1,890.3 L175,890.3 Q177.2,890.3 177.2,893 L177.2,913.5 Q177.2,916 174.5,915.6 Q160,913 151,908 Q148.7,906.5 149.8,904.5 L155.3,892.3 Q156.3,890.3 158.1,890.3 Z" fill="none" stroke="#1e1e1e" stroke-width="2.0" stroke-linejoin="round"/>
<path d="M202.5,890.3 L185.5,890.3 Q183.3,890.3 183.3,893 L183.3,913.5 Q183.3,916 186,915.6 Q200.5,913 209.5,908 Q211.8,906.5 210.7,904.5 L205.2,892.3 Q204.2,890.3 202.5,890.3 Z" fill="none" stroke="#1e1e1e" stroke-width="2.0" stroke-linejoin="round"/>
<path d="M162.8,898.3 L169.6,902.2 L162.8,906.2 Z" fill="none" stroke="#1e1e1e" stroke-width="1.8" stroke-linejoin="round"/>
<path d="M188.0,902.3 L194.0,898.3 L194.0,906.3 Z" fill="none" stroke="#1e1e1e" stroke-width="1.8" stroke-linejoin="round"/>
<line x1="194.0" y1="902.3" x2="199.5" y2="902.3" stroke="#1e1e1e" stroke-width="1.8"/>
<line x1="199.8" y1="897.0" x2="199.8" y2="903.0" stroke="#1e1e1e" stroke-width="2.2"/>
<path d="M128.8,927.2 L140.9,911.1 Q180,934 220.1,911.1 L232.2,927.2" fill="none" stroke="#1e1e1e" stroke-width="2.0" stroke-linejoin="round"/>
<path d="M133,929.6 Q134,921 141,921.5 Q146,922 151.2,929.6" fill="none" stroke="#1e1e1e" stroke-width="2.0" stroke-linejoin="round"/>
<path d="M227.8,929.6 Q226.5,921 219.5,921.5 Q214.5,922 209.4,929.6" fill="none" stroke="#1e1e1e" stroke-width="2.0" stroke-linejoin="round"/>
<path d="M133.1,927 L133.1,959 L227.8,959 L227.8,927" fill="none" stroke="#1e1e1e" stroke-width="2.2" stroke-linejoin="round"/>
<line x1="139.1" y1="929.0" x2="139.1" y2="958.0" stroke="#1e1e1e" stroke-width="1.8"/>
<line x1="151.2" y1="929.6" x2="151.2" y2="958.0" stroke="#1e1e1e" stroke-width="1.8"/>
<line x1="209.4" y1="929.6" x2="209.4" y2="958.0" stroke="#1e1e1e" stroke-width="1.8"/>
<line x1="221.3" y1="929.0" x2="221.3" y2="958.0" stroke="#1e1e1e" stroke-width="1.8"/>
<line x1="151.2" y1="929.6" x2="209.4" y2="929.6" stroke="#1e1e1e" stroke-width="2.0"/>
<rect x="156.3" y="959.0" width="45.9" height="5.0" fill="none" stroke="#1e1e1e" stroke-width="1.6"/>
<line x1="162.5" y1="959.0" x2="162.5" y2="964.0" stroke="#1e1e1e" stroke-width="1.2"/>
<line x1="170.5" y1="959.0" x2="170.5" y2="964.0" stroke="#1e1e1e" stroke-width="1.2"/>
<line x1="180.5" y1="959.0" x2="180.5" y2="964.0" stroke="#1e1e1e" stroke-width="1.2"/>
<line x1="190.5" y1="959.0" x2="190.5" y2="964.0" stroke="#1e1e1e" stroke-width="1.2"/>
<line x1="197.5" y1="959.0" x2="197.5" y2="964.0" stroke="#1e1e1e" stroke-width="1.2"/>
</g>
<path d="M171.4,1370 L171.4,1376.7 L197.5,1376.7 L197.5,1370" fill="none" stroke="#1e1e1e" stroke-width="1.8" stroke-linejoin="round"/>
<path d="M169.2,1376.7 L169.2,1402.8 L199.7,1402.8 L199.7,1376.7 Z" fill="none" stroke="#1e1e1e" stroke-width="2.0" stroke-linejoin="round"/>
<line x1="169.2" y1="1402.8" x2="199.7" y2="1402.8" stroke="#1e1e1e" stroke-width="3.0"/>
<path d="M169.2,1402.8 L169.2,1412 Q169.5,1420 171.4,1426.6 L215.3,1426.6 L215.3,1405 L199.7,1405" fill="none" stroke="#1e1e1e" stroke-width="2.0" stroke-linejoin="round"/>
<line x1="170.0" y1="1413.0" x2="190.0" y2="1413.0" stroke="#1e1e1e" stroke-width="1.6"/>
<path d="M190,1413 L188,1426.6" fill="none" stroke="#1e1e1e" stroke-width="1.6" stroke-linejoin="round"/>
<path d="M215.3,1405 L238.7,1405 L240.7,1409.5 L240.7,1422 L238.7,1426.6 L215.3,1426.6" fill="none" stroke="#1e1e1e" stroke-width="2.0" stroke-linejoin="round"/>
<path d="M240.7,1410 L254,1410 Q257.5,1416 254,1422 L240.7,1422" fill="none" stroke="#1e1e1e" stroke-width="2.0" stroke-linejoin="round"/>
<line x1="73.0" y1="1364.5" x2="128.0" y2="1364.5" stroke="#1e1e1e" stroke-width="1.1"/>
<line x1="114.7" y1="1426.5" x2="157.9" y2="1426.5" stroke="#1e1e1e" stroke-width="1.1"/>
<line x1="70.0" y1="1457.5" x2="99.8" y2="1457.5" stroke="#1e1e1e" stroke-width="1.1"/>
<line x1="119.5" y1="1364.3" x2="119.5" y2="1426.3" stroke="#1e1e1e" stroke-width="1.1"/>
<polygon points="119.2,1364.3 116.0,1375.3 122.4,1375.3" fill="#1e1e1e"/>
<polygon points="119.2,1426.3 116.0,1415.3 122.4,1415.3" fill="#1e1e1e"/>
<line x1="74.5" y1="1364.3" x2="74.5" y2="1457.9" stroke="#1e1e1e" stroke-width="1.1"/>
<polygon points="74.5,1364.3 71.3,1375.3 77.7,1375.3" fill="#1e1e1e"/>
<polygon points="74.5,1457.9 71.3,1446.9 77.7,1446.9" fill="#1e1e1e"/>
<text x="94.3" y="1397.0" font-size="21" text-anchor="middle" fill="#303030" transform="rotate(-90 94.3 1397.0)">31</text>
<text x="111.5" y="1394.0" font-size="18.6" text-anchor="middle" fill="#303030" transform="rotate(-90 111.5 1394.0)">(1.22)</text>
<text x="47.0" y="1411.0" font-size="20.4" text-anchor="middle" fill="#303030" transform="rotate(-90 47.0 1411.0)" letter-spacing="0.25">Ca. 47 <tspan font-size="18.6">(1.85)</tspan></text>
<text x="67.5" y="1410.5" font-size="20.4" text-anchor="middle" fill="#303030" transform="rotate(-90 67.5 1410.5)" letter-spacing="0.25">(connector range)</text>
<line x1="105.7" y1="1457.9" x2="242.8" y2="1457.9" stroke="#1e1e1e" stroke-width="2.2"/>
<path d="M111.7,1459.4 L99.0,1472.1 M123.0,1459.4 L102.0,1480.4 M134.2,1459.4 L107.2,1486.4 M145.5,1459.4 L113.5,1491.4 M156.8,1459.4 L121.8,1494.4 M168.1,1459.4 L132.1,1495.4 M179.3,1459.4 L144.3,1494.4 M190.6,1459.4 L159.6,1490.4 M201.9,1459.4 L177.9,1483.4 M213.1,1459.4 L195.4,1477.1 M224.4,1459.4 L207.4,1476.4 M235.7,1459.4 L216.7,1478.4 M242.8,1465.4 L225.8,1482.4 M242.8,1476.4 L234.3,1484.9" stroke="#3a3a3a" stroke-width="1.2" fill="none"/>
<text x="176.5" y="1527.9" font-size="20.4" text-anchor="middle" fill="#303030" letter-spacing="0.25">Cable socket M12 angled</text>
<text x="176.5" y="1548.8" font-size="20.4" text-anchor="middle" fill="#303030" letter-spacing="0.25">(only with AS-Interface:</text>
<text x="176.5" y="1569.7" font-size="20.4" text-anchor="middle" fill="#303030" letter-spacing="0.25">aligned)</text>
<path d="M425.40000000000003,1341.1 L425.4,1249.7 L428.0,1249.8 L430.6,1249.9 L433.2,1250.2 L435.7,1250.5 L438.3,1250.9 L440.9,1251.4 L443.5,1252.0 L446.1,1252.6 L448.7,1253.2 L451.2,1253.9 L453.8,1254.6 L456.4,1255.2 L459.0,1255.8 L461.6,1256.3 L464.2,1256.8 L466.8,1257.3 L469.3,1257.6 L471.9,1257.8 L474.5,1258.0 L477.1,1258.0 L479.7,1257.9 L482.3,1257.6 L484.9,1257.2 L487.4,1256.7 L490.0,1256.1 L492.6,1255.4 L495.2,1254.8 L497.8,1254.3 L500.4,1253.8 L502.9,1253.4 L505.5,1253.2 L508.1,1253.2 L510.7,1253.4 L513.3,1253.8 L515.9,1254.4 L518.5,1255.1 L521.0,1255.7 L523.6,1256.2 L526.2,1256.6 L528.8,1256.7 L528.8,1341.1" fill="none" stroke="#1e1e1e" stroke-width="2.4" stroke-linejoin="round"/>
<line x1="437.4" y1="1250.8" x2="437.4" y2="1296.1" stroke="#1e1e1e" stroke-width="1.8"/>
<line x1="450.8" y1="1253.8" x2="450.8" y2="1296.1" stroke="#1e1e1e" stroke-width="1.8"/>
<line x1="503.7" y1="1253.4" x2="503.7" y2="1296.1" stroke="#1e1e1e" stroke-width="1.8"/>
<line x1="516.4" y1="1254.5" x2="516.4" y2="1296.1" stroke="#1e1e1e" stroke-width="1.8"/>
<rect x="468.8" y="1272.2" width="16.3" height="21" fill="#1e1e1e"/>
<path d="M470.4,1273.8 h13.1 v17.8 h-13.1 Z" fill="none" stroke="#fff" stroke-width="0.7"/>
<path d="M475.4,1277.0 L480.4,1277.0 L479.4,1281.2 L474.4,1281.2 Z M474.0,1284.0 L479.0,1284.0 L478.0,1288.2 L473.0,1288.2 Z" fill="#fff"/>
<line x1="425.4" y1="1296.1" x2="528.8" y2="1296.1" stroke="#1e1e1e" stroke-width="2.0"/>
<line x1="437.8" y1="1296.1" x2="516.4" y2="1296.1" stroke="#1e1e1e" stroke-width="3.6"/>
<g transform="translate(296.6,413.8)">
<line x1="140.3" y1="883.0" x2="140.3" y2="911.0" stroke="#1e1e1e" stroke-width="1.8"/>
<line x1="220.1" y1="883.0" x2="220.1" y2="911.0" stroke="#1e1e1e" stroke-width="1.8"/>
<path d="M154.6,886.7 L205.8,886.7 Q210,886.7 212,890 L217.7,906 Q219,909 216,911 Q180,932 144.4,911 Q141.5,909 142.7,906 L148.4,890 Q150.4,886.7 154.6,886.7 Z" fill="none" stroke="#1e1e1e" stroke-width="2.0" stroke-linejoin="round"/>
<path d="M158.1,890.3 L175,890.3 Q177.2,890.3 177.2,893 L177.2,913.5 Q177.2,916 174.5,915.6 Q160,913 151,908 Q148.7,906.5 149.8,904.5 L155.3,892.3 Q156.3,890.3 158.1,890.3 Z" fill="none" stroke="#1e1e1e" stroke-width="2.0" stroke-linejoin="round"/>
<path d="M202.5,890.3 L185.5,890.3 Q183.3,890.3 183.3,893 L183.3,913.5 Q183.3,916 186,915.6 Q200.5,913 209.5,908 Q211.8,906.5 210.7,904.5 L205.2,892.3 Q204.2,890.3 202.5,890.3 Z" fill="none" stroke="#1e1e1e" stroke-width="2.0" stroke-linejoin="round"/>
<path d="M162.8,898.3 L169.6,902.2 L162.8,906.2 Z" fill="none" stroke="#1e1e1e" stroke-width="1.8" stroke-linejoin="round"/>
<path d="M188.0,902.3 L194.0,898.3 L194.0,906.3 Z" fill="none" stroke="#1e1e1e" stroke-width="1.8" stroke-linejoin="round"/>
<line x1="194.0" y1="902.3" x2="199.5" y2="902.3" stroke="#1e1e1e" stroke-width="1.8"/>
<line x1="199.8" y1="897.0" x2="199.8" y2="903.0" stroke="#1e1e1e" stroke-width="2.2"/>
<path d="M128.8,927.2 L140.9,911.1 Q180,934 220.1,911.1 L232.2,927.2" fill="none" stroke="#1e1e1e" stroke-width="2.0" stroke-linejoin="round"/>
<path d="M133,929.6 Q134,921 141,921.5 Q146,922 151.2,929.6" fill="none" stroke="#1e1e1e" stroke-width="2.0" stroke-linejoin="round"/>
<path d="M227.8,929.6 Q226.5,921 219.5,921.5 Q214.5,922 209.4,929.6" fill="none" stroke="#1e1e1e" stroke-width="2.0" stroke-linejoin="round"/>
<path d="M133.1,927 L133.1,959 L227.8,959 L227.8,927" fill="none" stroke="#1e1e1e" stroke-width="2.2" stroke-linejoin="round"/>
<line x1="139.1" y1="929.0" x2="139.1" y2="958.0" stroke="#1e1e1e" stroke-width="1.8"/>
<line x1="151.2" y1="929.6" x2="151.2" y2="958.0" stroke="#1e1e1e" stroke-width="1.8"/>
<line x1="209.4" y1="929.6" x2="209.4" y2="958.0" stroke="#1e1e1e" stroke-width="1.8"/>
<line x1="221.3" y1="929.0" x2="221.3" y2="958.0" stroke="#1e1e1e" stroke-width="1.8"/>
<line x1="151.2" y1="929.6" x2="209.4" y2="929.6" stroke="#1e1e1e" stroke-width="2.0"/>
<rect x="156.3" y="959.0" width="45.9" height="5.0" fill="none" stroke="#1e1e1e" stroke-width="1.6"/>
<line x1="162.5" y1="959.0" x2="162.5" y2="964.0" stroke="#1e1e1e" stroke-width="1.2"/>
<line x1="170.5" y1="959.0" x2="170.5" y2="964.0" stroke="#1e1e1e" stroke-width="1.2"/>
<line x1="180.5" y1="959.0" x2="180.5" y2="964.0" stroke="#1e1e1e" stroke-width="1.2"/>
<line x1="190.5" y1="959.0" x2="190.5" y2="964.0" stroke="#1e1e1e" stroke-width="1.2"/>
<line x1="197.5" y1="959.0" x2="197.5" y2="964.0" stroke="#1e1e1e" stroke-width="1.2"/>
</g>
<path d="M465.6,1378.3 L465.6,1386 L490,1386 L490,1378.3" fill="none" stroke="#1e1e1e" stroke-width="1.8" stroke-linejoin="round"/>
<path d="M463,1386 L492.5,1386 Q495,1393 492.5,1401.3 L463,1401.3 Q460.5,1393 463,1386 Z" fill="none" stroke="#1e1e1e" stroke-width="2.0" stroke-linejoin="round"/>
<line x1="463.0" y1="1387.0" x2="492.5" y2="1387.0" stroke="#1e1e1e" stroke-width="2.6"/>
<line x1="463.0" y1="1400.0" x2="492.5" y2="1400.0" stroke="#1e1e1e" stroke-width="2.6"/>
<path d="M464.5,1401.3 L464.5,1404.7 M491,1401.3 L491,1404.7" fill="none" stroke="#1e1e1e" stroke-width="1.8" stroke-linejoin="round"/>
<rect x="451.7" y="1404.7" width="52.8" height="6.3" fill="none" stroke="#1e1e1e" stroke-width="2.0"/>
<line x1="458.5" y1="1404.7" x2="458.5" y2="1411.0" stroke="#1e1e1e" stroke-width="1.4"/>
<line x1="499.5" y1="1404.7" x2="499.5" y2="1411.0" stroke="#1e1e1e" stroke-width="1.4"/>
<path d="M458,1411 L458,1419.3 M499,1411 L499,1419.3" fill="none" stroke="#1e1e1e" stroke-width="1.8" stroke-linejoin="round"/>
<rect x="447.5" y="1419.3" width="60.5" height="19.5" fill="none" stroke="#1e1e1e" stroke-width="2.0"/>
<path d="M447.5,1423.5 L420.4,1423.5 L423,1432.5 L447.5,1432.5" fill="none" stroke="#1e1e1e" stroke-width="2.0" stroke-linejoin="round"/>
<path d="M508,1423.5 L536.5,1423.5 L533,1432.5 L508,1432.5" fill="none" stroke="#1e1e1e" stroke-width="2.0" stroke-linejoin="round"/>
<line x1="363.6" y1="1373.5" x2="423.0" y2="1373.5" stroke="#1e1e1e" stroke-width="1.1"/>
<line x1="408.0" y1="1438.5" x2="438.0" y2="1438.5" stroke="#1e1e1e" stroke-width="1.1"/>
<line x1="363.6" y1="1457.5" x2="396.4" y2="1457.5" stroke="#1e1e1e" stroke-width="1.1"/>
<line x1="412.5" y1="1373.0" x2="412.5" y2="1438.3" stroke="#1e1e1e" stroke-width="1.1"/>
<polygon points="412.8,1373.0 409.6,1384.0 416.0,1384.0" fill="#1e1e1e"/>
<polygon points="412.8,1438.3 409.6,1427.3 416.0,1427.3" fill="#1e1e1e"/>
<line x1="368.5" y1="1373.0" x2="368.5" y2="1457.9" stroke="#1e1e1e" stroke-width="1.1"/>
<polygon points="368.0,1373.0 364.8,1384.0 371.2,1384.0" fill="#1e1e1e"/>
<polygon points="368.0,1457.9 364.8,1446.9 371.2,1446.9" fill="#1e1e1e"/>
<text x="388.0" y="1404.0" font-size="21" text-anchor="middle" fill="#303030" transform="rotate(-90 388.0 1404.0)">33</text>
<text x="405.5" y="1403.0" font-size="18.6" text-anchor="middle" fill="#303030" transform="rotate(-90 405.5 1403.0)">(1.30)</text>
<text x="340.5" y="1415.5" font-size="20.4" text-anchor="middle" fill="#303030" transform="rotate(-90 340.5 1415.5)" letter-spacing="0.25">Ca. 43 <tspan font-size="18.6">(1.69)</tspan></text>
<text x="359.5" y="1415.5" font-size="20.4" text-anchor="middle" fill="#303030" transform="rotate(-90 359.5 1415.5)" letter-spacing="0.25">(connector range)</text>
<line x1="399.4" y1="1457.9" x2="536.4" y2="1457.9" stroke="#1e1e1e" stroke-width="2.2"/>
<path d="M405.4,1459.4 L392.7,1472.1 M416.7,1459.4 L395.7,1480.4 M427.9,1459.4 L400.9,1486.4 M439.2,1459.4 L407.2,1491.4 M450.5,1459.4 L415.5,1494.4 M461.8,1459.4 L425.8,1495.4 M473.0,1459.4 L438.0,1494.4 M484.3,1459.4 L453.3,1490.4 M495.6,1459.4 L471.6,1483.4 M506.8,1459.4 L489.1,1477.1 M518.1,1459.4 L501.1,1476.4 M529.4,1459.4 L510.4,1478.4 M536.4,1465.4 L519.4,1482.4 M536.4,1476.4 L527.9,1484.9" stroke="#3a3a3a" stroke-width="1.2" fill="none"/>
<text x="485.0" y="1527.9" font-size="20.4" text-anchor="middle" fill="#303030" letter-spacing="0.25">AS-Interface clip M12</text>
<text x="485.5" y="1548.5" font-size="20.4" text-anchor="middle" fill="#303030" letter-spacing="0.25">(aligned)</text>
<path d="M788.2,1256 L788.2,1152.7 L790.9,1152.6 L793.6,1152.3 L796.2,1151.9 L798.9,1151.3 L801.6,1150.6 L804.2,1150.0 L806.9,1149.3 L809.6,1148.8 L812.3,1148.4 L815.0,1148.2 L817.6,1148.2 L820.3,1148.3 L823.0,1148.6 L825.7,1148.9 L828.3,1149.4 L831.0,1149.9 L833.7,1150.5 L836.4,1151.2 L839.0,1151.8 L841.7,1152.5 L844.4,1153.1 L847.1,1153.7 L849.7,1154.2 L852.4,1154.7 L855.1,1155.0 L857.8,1155.3 L860.4,1155.4 L863.1,1155.4 L865.8,1155.2 L868.5,1154.9 L871.1,1154.4 L873.8,1153.8 L876.5,1153.2 L879.2,1152.5 L881.8,1151.8 L884.5,1151.2 L887.2,1150.7 L889.9,1150.3 L892.5,1150.1 L895.2,1150.0 L895.1,1216.5" fill="none" stroke="#1e1e1e" stroke-width="2.4" stroke-linejoin="round"/>
<g transform="translate(238.5,345.1)">
<line x1="549.7" y1="871.9" x2="657.5" y2="871.9" stroke="#1e1e1e" stroke-width="2.0"/>
<path d="M656.5,871.9 L660.7,873.5 L660.7,914.2 L651,920" fill="none" stroke="#1e1e1e" stroke-width="2.2" stroke-linejoin="round"/>
<path d="M549.7,871 L549.7,916.8 L554.2,920" fill="none" stroke="#1e1e1e" stroke-width="2.2" stroke-linejoin="round"/>
<line x1="560.7" y1="871.9" x2="560.7" y2="906.5" stroke="#1e1e1e" stroke-width="1.8"/>
<path d="M549.7,913 L559.4,906.5 Q572,911 587.1,915.5" fill="none" stroke="#1e1e1e" stroke-width="1.8" stroke-linejoin="round"/>
<path d="M660.7,902.6 Q640,911 618.8,915.5" fill="none" stroke="#1e1e1e" stroke-width="1.8" stroke-linejoin="round"/>
<line x1="587.1" y1="871.9" x2="587.1" y2="915.5" stroke="#1e1e1e" stroke-width="1.8"/>
<line x1="622.6" y1="871.9" x2="622.6" y2="914.0" stroke="#1e1e1e" stroke-width="1.8"/>
<path d="M593.6,871.9 Q593.6,885 590.3,892 L590.3,949" fill="none" stroke="#1e1e1e" stroke-width="1.8" stroke-linejoin="round"/>
<path d="M614.9,871.9 Q614.9,885 618.8,892 L618.8,949" fill="none" stroke="#1e1e1e" stroke-width="1.8" stroke-linejoin="round"/>
<path d="M554.2,920 L590.3,920" fill="none" stroke="#1e1e1e" stroke-width="1.8" stroke-linejoin="round"/>
<path d="M618.8,920 L651,920" fill="none" stroke="#1e1e1e" stroke-width="1.8" stroke-linejoin="round"/>
<path d="M562,920 Q560,912.5 564.5,912 Q568,912 575,920" fill="none" stroke="#1e1e1e" stroke-width="1.8" stroke-linejoin="round"/>
<path d="M630.4,920 Q637,912 642,912.5 Q646,913 645,920" fill="none" stroke="#1e1e1e" stroke-width="1.8" stroke-linejoin="round"/>
<path d="M554.2,920 L554.2,949 L651,949 L651,920" fill="none" stroke="#1e1e1e" stroke-width="2.2" stroke-linejoin="round"/>
<line x1="565.8" y1="920.0" x2="565.8" y2="949.0" stroke="#1e1e1e" stroke-width="1.6"/>
<line x1="576.8" y1="920.0" x2="576.8" y2="949.0" stroke="#1e1e1e" stroke-width="1.6"/>
<line x1="630.4" y1="920.0" x2="630.4" y2="949.0" stroke="#1e1e1e" stroke-width="1.6"/>
<line x1="642.0" y1="920.0" x2="642.0" y2="949.0" stroke="#1e1e1e" stroke-width="1.6"/>
<rect x="560.7" y="949.0" width="47.1" height="4.6" fill="none" stroke="#1e1e1e" stroke-width="1.6"/>
<rect x="614.2" y="949.0" width="36.2" height="4.6" fill="none" stroke="#1e1e1e" stroke-width="1.6"/>
<line x1="565.5" y1="949.0" x2="565.5" y2="953.6" stroke="#1e1e1e" stroke-width="1.1"/>
<line x1="571.5" y1="949.0" x2="571.5" y2="953.6" stroke="#1e1e1e" stroke-width="1.1"/>
<line x1="580.5" y1="949.0" x2="580.5" y2="953.6" stroke="#1e1e1e" stroke-width="1.1"/>
<line x1="590.5" y1="949.0" x2="590.5" y2="953.6" stroke="#1e1e1e" stroke-width="1.1"/>
<line x1="600.5" y1="949.0" x2="600.5" y2="953.6" stroke="#1e1e1e" stroke-width="1.1"/>
<line x1="619.5" y1="949.0" x2="619.5" y2="953.6" stroke="#1e1e1e" stroke-width="1.1"/>
<line x1="626.5" y1="949.0" x2="626.5" y2="953.6" stroke="#1e1e1e" stroke-width="1.1"/>
<line x1="636.5" y1="949.0" x2="636.5" y2="953.6" stroke="#1e1e1e" stroke-width="1.1"/>
<line x1="644.5" y1="949.0" x2="644.5" y2="953.6" stroke="#1e1e1e" stroke-width="1.1"/>
</g>
<line x1="799.6" y1="1151.1" x2="799.6" y2="1217.0" stroke="#1e1e1e" stroke-width="1.8"/>
<line x1="825.3" y1="1148.9" x2="825.3" y2="1217.0" stroke="#1e1e1e" stroke-width="1.8"/>
<line x1="832.6" y1="1150.3" x2="832.6" y2="1217.0" stroke="#1e1e1e" stroke-width="1.8"/>
<line x1="854.3" y1="1154.9" x2="854.3" y2="1217.0" stroke="#1e1e1e" stroke-width="1.8"/>
<line x1="860.7" y1="1155.4" x2="860.7" y2="1217.0" stroke="#1e1e1e" stroke-width="1.8"/>
<path d="M810,1298.7 L810,1306 M834.4,1298.7 L834.4,1306" fill="none" stroke="#1e1e1e" stroke-width="1.6" stroke-linejoin="round"/>
<rect x="807.2" y="1306.0" width="30.8" height="38.0" fill="none" stroke="#1e1e1e" stroke-width="2.0"/>
<path d="M807.2,1344 L813.5,1367.6 L813.5,1393 L832.6,1393 L832.6,1367.6 L838,1344" fill="none" stroke="#1e1e1e" stroke-width="2.0" stroke-linejoin="round"/>
<line x1="813.5" y1="1367.6" x2="832.6" y2="1367.6" stroke="#1e1e1e" stroke-width="1.6"/>
<path d="M816.3,1393 L816.3,1416 Q822,1419 829,1416 L829,1393" fill="none" stroke="#1e1e1e" stroke-width="2.0" stroke-linejoin="round"/>
<path d="M857,1300.5 L857,1318.6 L884.3,1318.6 L884.3,1300.5" fill="none" stroke="#1e1e1e" stroke-width="2.0" stroke-linejoin="round"/>
<line x1="857.0" y1="1316.0" x2="884.3" y2="1316.0" stroke="#1e1e1e" stroke-width="1.6"/>
<rect x="855.2" y="1321.3" width="30.8" height="27.2" fill="none" stroke="#1e1e1e" stroke-width="2.0"/>
<path d="M859,1348.5 L859,1362 L882,1362 L882,1348.5 M860.5,1362 L860.5,1370 L880.5,1370 L880.5,1362 M862,1370 L862,1380 Q865.2,1384 865.2,1386 M879,1370 L879,1380 Q877.9,1384 877.9,1386" fill="none" stroke="#1e1e1e" stroke-width="2.0" stroke-linejoin="round"/>
<line x1="859.0" y1="1353.5" x2="882.0" y2="1353.5" stroke="#1e1e1e" stroke-width="1.4"/>
<line x1="859.0" y1="1357.5" x2="882.0" y2="1357.5" stroke="#1e1e1e" stroke-width="1.4"/>
<path d="M865.2,1384 L865.2,1416 Q871,1419 877.9,1416 L877.9,1384" fill="none" stroke="#1e1e1e" stroke-width="2.0" stroke-linejoin="round"/>
<path d="M905.3,1173.0 L914.3,1173.0 L913.3,1164.0 L934.8,1184.5 L913.3,1205.0 L914.3,1196.0 L905.3,1196.0 Z" fill="none" stroke="#1e1e1e" stroke-width="3.6" stroke-linejoin="miter" stroke-miterlimit="6"/>
<line x1="713.5" y1="1294.5" x2="780.4" y2="1294.5" stroke="#1e1e1e" stroke-width="1.1"/>
<line x1="757.0" y1="1392.5" x2="798.8" y2="1392.5" stroke="#1e1e1e" stroke-width="1.1"/>
<line x1="713.5" y1="1458.5" x2="758.7" y2="1458.5" stroke="#1e1e1e" stroke-width="1.1"/>
<line x1="760.5" y1="1294.0" x2="760.5" y2="1392.7" stroke="#1e1e1e" stroke-width="1.1"/>
<polygon points="760.4,1294.0 757.2,1305.0 763.6,1305.0" fill="#1e1e1e"/>
<polygon points="760.4,1392.7 757.2,1381.7 763.6,1381.7" fill="#1e1e1e"/>
<line x1="718.5" y1="1294.0" x2="718.5" y2="1458.0" stroke="#1e1e1e" stroke-width="1.1"/>
<polygon points="718.5,1294.0 715.3,1305.0 721.7,1305.0" fill="#1e1e1e"/>
<polygon points="718.5,1458.0 715.3,1447.0 721.7,1447.0" fill="#1e1e1e"/>
<line x1="906.0" y1="1294.5" x2="947.8" y2="1294.5" stroke="#1e1e1e" stroke-width="1.1"/>
<line x1="892.6" y1="1387.5" x2="947.8" y2="1387.5" stroke="#1e1e1e" stroke-width="1.1"/>
<line x1="944.5" y1="1294.0" x2="944.5" y2="1387.7" stroke="#1e1e1e" stroke-width="1.1"/>
<polygon points="944.4,1294.0 941.2,1305.0 947.6,1305.0" fill="#1e1e1e"/>
<polygon points="944.4,1387.7 941.2,1376.7 947.6,1376.7" fill="#1e1e1e"/>
<text x="736.0" y="1342.5" font-size="21" text-anchor="middle" fill="#303030" transform="rotate(-90 736.0 1342.5)">50</text>
<text x="754.0" y="1342.5" font-size="18.6" text-anchor="middle" fill="#303030" transform="rotate(-90 754.0 1342.5)">(1.97)</text>
<text x="920.0" y="1341.0" font-size="21" text-anchor="middle" fill="#303030" transform="rotate(-90 920.0 1341.0)">47.5</text>
<text x="938.0" y="1338.0" font-size="18.6" text-anchor="middle" fill="#303030" transform="rotate(-90 938.0 1338.0)">(1.87)</text>
<text x="691.0" y="1369.0" font-size="20.4" text-anchor="middle" fill="#303030" transform="rotate(-90 691.0 1369.0)" letter-spacing="0.25">Ca. 83 <tspan font-size="18.6">(3.27)</tspan></text>
<text x="712.0" y="1376.0" font-size="20.4" text-anchor="middle" fill="#303030" transform="rotate(-90 712.0 1376.0)" letter-spacing="0.25">(connector range)</text>
<line x1="772.0" y1="1458.0" x2="916.0" y2="1458.0" stroke="#1e1e1e" stroke-width="2.2"/>
<path d="M778.0,1459.5 L765.3,1472.2 M789.3,1459.5 L768.3,1480.5 M800.5,1459.5 L773.5,1486.5 M811.8,1459.5 L779.8,1491.5 M823.1,1459.5 L788.1,1494.5 M834.4,1459.5 L798.4,1495.5 M845.6,1459.5 L810.6,1494.5 M856.9,1459.5 L825.9,1490.5 M868.2,1459.5 L844.2,1483.5 M879.4,1459.5 L861.7,1477.2 M890.7,1459.5 L873.7,1476.5 M902.0,1459.5 L883.0,1478.5 M916.0,1465.5 L899.0,1482.5 M916.0,1476.5 L907.5,1485.0" stroke="#3a3a3a" stroke-width="1.2" fill="none"/>
<text x="848.0" y="1527.6" font-size="20.4" text-anchor="middle" fill="#303030" letter-spacing="0.25">Cable socket M12 with cable</text>
<text x="848.0" y="1549.2" font-size="20.4" text-anchor="middle" fill="#303030" letter-spacing="0.25">(left) and cable plug M12 with</text>
<text x="848.0" y="1570.2" font-size="20.4" text-anchor="middle" fill="#303030" letter-spacing="0.25">cable (right, optional, only on</text>
<text x="849.0" y="1591.7" font-size="20.4" text-anchor="middle" fill="#303030" letter-spacing="0.25">receiver)</text>
</svg></body></html>
